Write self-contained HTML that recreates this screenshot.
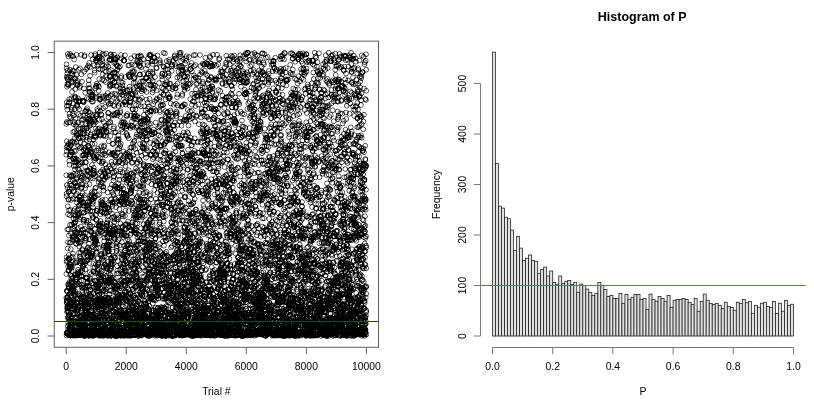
<!DOCTYPE html><html><head><meta charset="utf-8"><title>Histogram of P</title><style>
html,body{margin:0;padding:0;background:#fff;width:814px;height:400px;overflow:hidden}
svg{display:block}
text{font-family:"Liberation Sans",Arial,sans-serif;fill:#000}
</style></head><body>
<svg width="814" height="400" viewBox="0 0 814 400">
<rect width="814" height="400" fill="#fff"/>
<defs><marker id="c" markerUnits="userSpaceOnUse" markerWidth="32" markerHeight="32" refX="16" refY="16" overflow="visible" viewBox="0 0 32 32"><circle cx="16" cy="16" r="9.6" fill="none" stroke="#000" stroke-width="2.2" shape-rendering="auto"/></marker><filter id="k" x="0" y="0" width="814" height="400" filterUnits="userSpaceOnUse"><feComponentTransfer><feFuncA type="linear" slope="1.5" intercept="-0.1"/></feComponentTransfer></filter></defs>
<g filter="url(#k)"><g transform="scale(0.25)"><polyline fill="none" stroke="none" marker-start="url(#c)" marker-mid="url(#c)" marker-end="url(#c)" points="265,496 265,701 265,619 265,1191 265,1096 266,775 266,1047 266,1333 266,589 266,1029 266,785 266,273 266,1342 266,257 267,565 267,488 267,409 267,606 267,740 267,424 267,307 267,1163 268,1203 268,1211 268,1248 268,1202 268,347 268,1331 268,1213 268,1233 269,1329 269,438 269,313 269,1165 269,1193 269,294 269,918 269,1043 269,337 270,1226 270,282 270,752 270,1224 270,585 270,1336 270,1191 270,1165 271,1270 271,318 271,1304 271,1232 271,216 271,1186 271,825 271,994 272,969 272,1067 272,1245 272,1138 272,1330 272,857 272,1244 272,1318 272,1330 273,798 273,576 273,1083 273,341 273,1036 273,1291 273,490 273,309 274,917 274,767 274,226 274,1267 274,336 274,423 274,1279 274,594 275,1234 275,798 275,1272 275,1083 275,1137 275,942 275,1146 275,1341 275,1020 276,1249 276,1151 276,1197 276,410 276,1260 276,1153 276,1080 276,842 277,767 277,1055 277,1223 277,397 277,1299 277,409 277,1034 277,643 278,589 278,701 278,1316 278,1129 278,1338 278,659 278,1038 278,455 278,1064 279,1317 279,971 279,1229 279,467 279,1322 279,1175 279,756 279,624 280,490 280,216 280,1323 280,861 280,899 280,1068 280,279 280,735 281,569 281,725 281,618 281,1306 281,1282 281,1341 281,1100 281,1343 281,1307 282,1071 282,1341 282,1202 282,840 282,1274 282,310 282,1336 282,580 283,996 283,1059 283,604 283,1295 283,1312 283,1250 283,620 283,970 284,609 284,800 284,1133 284,1307 284,581 284,222 284,935 284,471 285,292 285,1292 285,1143 285,705 285,1184 285,703 285,1209 285,1031 285,1115 286,393 286,1337 286,1066 286,1288 286,781 286,1105 286,1269 286,1126 287,1271 287,331 287,440 287,742 287,1084 287,1334 287,899 287,430 288,327 288,1338 288,1329 288,368 288,1153 288,1172 288,1213 288,1071 288,755 289,1135 289,1308 289,609 289,1207 289,1168 289,1324 289,345 289,1153 290,297 290,565 290,283 290,1322 290,703 290,1153 290,959 290,1154 291,319 291,945 291,1027 291,1143 291,1234 291,723 291,453 291,1340 291,950 292,1111 292,1015 292,1257 292,569 292,1223 292,225 292,1199 292,794 293,1169 293,1320 293,637 293,1337 293,1163 293,529 293,1343 293,915 294,874 294,696 294,462 294,285 294,766 294,415 294,1151 294,1329 294,860 295,945 295,497 295,893 295,949 295,664 295,844 295,1253 295,1281 296,1335 296,1206 296,1143 296,1287 296,1209 296,764 296,313 296,392 297,604 297,627 297,1336 297,1289 297,488 297,1222 297,1181 297,635 297,238 298,648 298,553 298,906 298,572 298,1300 298,1342 298,438 298,526 299,1234 299,1341 299,733 299,1202 299,921 299,1171 299,836 299,1333 300,1318 300,891 300,1256 300,1179 300,1052 300,1217 300,386 300,1230 300,677 301,861 301,390 301,929 301,1165 301,1179 301,1099 301,945 301,730 302,781 302,356 302,313 302,1324 302,475 302,887 302,640 302,663 303,268 303,878 303,700 303,1110 303,1310 303,604 303,1049 303,952 303,863 304,1099 304,1137 304,1117 304,744 304,1289 304,635 304,975 304,499 305,716 305,957 305,745 305,505 305,1242 305,962 305,975 305,648 306,219 306,1343 306,532 306,300 306,403 306,1118 306,1335 306,568 306,1043 307,1336 307,810 307,934 307,543 307,1128 307,776 307,1140 307,1230 308,710 308,331 308,1338 308,929 308,798 308,418 308,422 308,1049 309,1340 309,1323 309,1252 309,742 309,1238 309,1211 309,842 309,1209 309,1258 310,337 310,1291 310,341 310,1292 310,1097 310,959 310,1196 310,1330 311,1334 311,1180 311,428 311,1289 311,1340 311,750 311,324 311,1296 312,393 312,539 312,676 312,1237 312,1079 312,640 312,912 312,1288 312,1088 313,861 313,865 313,1092 313,584 313,1279 313,490 313,1340 313,1098 314,551 314,1290 314,457 314,513 314,1336 314,835 314,1290 314,969 315,660 315,855 315,279 315,1338 315,554 315,1176 315,1136 315,534 315,406 316,1315 316,823 316,407 316,1261 316,1011 316,680 316,1298 316,1289 317,1228 317,931 317,1221 317,852 317,1339 317,788 317,437 317,1278 318,401 318,821 318,790 318,1126 318,987 318,876 318,1323 318,1336 318,1104 319,1026 319,1325 319,592 319,690 319,351 319,936 319,1285 319,1325 320,273 320,802 320,967 320,1339 320,1293 320,344 320,1266 320,1200 321,1182 321,973 321,649 321,1027 321,1306 321,1336 321,1268 321,656 322,463 322,531 322,869 322,571 322,1087 322,548 322,1289 322,1337 322,1045 323,815 323,1054 323,1010 323,1272 323,1190 323,1301 323,783 323,907 324,1333 324,753 324,515 324,1215 324,723 324,1034 324,712 324,1263 325,1243 325,1336 325,1304 325,589 325,798 325,1210 325,219 325,1187 325,1342 326,297 326,482 326,1139 326,1102 326,737 326,933 326,966 326,1122 327,1340 327,1277 327,1194 327,849 327,692 327,811 327,1106 327,749 328,1307 328,1150 328,1335 328,711 328,327 328,1223 328,493 328,1320 328,1336 329,622 329,1161 329,996 329,1152 329,1001 329,1080 329,1301 329,650 330,1234 330,944 330,1046 330,702 330,921 330,773 330,535 330,1315 331,735 331,808 331,404 331,1066 331,551 331,1279 331,1241 331,1324 331,1089 332,477 332,918 332,1337 332,1058 332,550 332,515 332,1280 332,1317 333,1188 333,1144 333,811 333,403 333,622 333,1065 333,822 333,1186 334,1218 334,1301 334,851 334,408 334,1337 334,599 334,879 334,932 334,1019 335,887 335,1284 335,1217 335,1189 335,523 335,1342 335,408 335,462 336,688 336,1152 336,879 336,575 336,618 336,354 336,1323 336,1216 337,1043 337,850 337,514 337,287 337,1265 337,712 337,1298 337,533 337,1344 338,226 338,1231 338,1058 338,1326 338,945 338,221 338,824 338,631 339,1315 339,592 339,1241 339,915 339,1282 339,1215 339,1317 339,1275 340,1274 340,447 340,1306 340,781 340,1336 340,963 340,1344 340,1331 340,1275 341,371 341,1148 341,1261 341,753 341,667 341,792 341,1315 341,1190 342,1339 342,1312 342,1078 342,1252 342,953 342,1327 342,933 342,1014 343,1205 343,1266 343,1110 343,648 343,600 343,1242 343,495 343,650 343,444 344,1215 344,622 344,1210 344,277 344,1206 344,1045 344,1010 344,1340 345,827 345,1166 345,1248 345,1266 345,742 345,471 345,550 345,955 346,1172 346,513 346,882 346,1250 346,440 346,1323 346,1001 346,1322 346,1180 347,560 347,1272 347,890 347,513 347,1113 347,1113 347,609 347,1144 348,1009 348,1110 348,1325 348,392 348,1193 348,846 348,1301 348,1338 349,718 349,1325 349,433 349,271 349,1043 349,1291 349,822 349,1131 349,682 350,1129 350,1133 350,477 350,1333 350,1227 350,1022 350,531 350,1218 351,1038 351,704 351,1309 351,602 351,1325 351,686 351,993 351,1336 352,583 352,840 352,1339 352,1233 352,809 352,822 352,1289 352,1144 352,989 353,488 353,262 353,1214 353,447 353,1292 353,523 353,884 353,1027 354,584 354,1337 354,819 354,1328 354,1249 354,1341 354,396 354,832 355,476 355,352 355,1337 355,1291 355,1186 355,338 355,1343 355,321 355,1323 356,1225 356,921 356,683 356,1205 356,585 356,975 356,1343 356,1165 357,707 357,252 357,628 357,1262 357,618 357,367 357,1013 357,999 358,1200 358,591 358,558 358,1052 358,1291 358,737 358,1145 358,504 358,808 359,463 359,1197 359,268 359,354 359,1221 359,956 359,1322 359,1089 360,907 360,692 360,475 360,1247 360,1120 360,899 360,491 360,303 361,495 361,845 361,1126 361,607 361,1113 361,924 361,369 361,452 362,1333 362,1210 362,714 362,781 362,483 362,1211 362,675 362,547 362,1185 363,1332 363,538 363,1159 363,598 363,1159 363,500 363,1262 363,1026 364,800 364,792 364,609 364,385 364,1029 364,1216 364,220 364,1175 365,1282 365,1244 365,1096 365,613 365,397 365,1184 365,929 365,926 365,1276 366,1295 366,1309 366,1243 366,1336 366,1023 366,1335 366,1013 366,784 367,769 367,1133 367,1339 367,1264 367,1294 367,1261 367,1343 367,1241 368,486 368,606 368,860 368,1333 368,660 368,1231 368,407 368,378 368,905 369,1017 369,1290 369,948 369,369 369,799 369,460 369,576 369,1343 370,1291 370,385 370,1260 370,776 370,389 370,379 370,845 370,796 371,237 371,1006 371,952 371,1273 371,1335 371,816 371,1310 371,1302 371,1029 372,1288 372,406 372,1307 372,829 372,868 372,1279 372,714 372,872 373,682 373,558 373,1285 373,1262 373,987 373,1314 373,1070 373,806 374,1336 374,1150 374,623 374,1195 374,1088 374,1307 374,1086 374,1174 374,692 375,1310 375,1036 375,697 375,671 375,1313 375,478 375,498 375,1342 376,944 376,787 376,1323 376,1342 376,938 376,693 376,546 376,1309 377,1258 377,793 377,261 377,683 377,486 377,1324 377,633 377,641 377,628 378,282 378,1342 378,765 378,1324 378,1303 378,981 378,480 378,533 379,575 379,291 379,915 379,974 379,1324 379,952 379,1069 379,1210 380,1290 380,787 380,1122 380,705 380,1193 380,957 380,1204 380,1202 380,967 381,1124 381,216 381,544 381,223 381,1290 381,753 381,1279 381,1226 382,544 382,1325 382,549 382,1147 382,1227 382,1093 382,1261 382,353 383,488 383,1235 383,634 383,458 383,514 383,1058 383,242 383,859 383,971 384,1213 384,994 384,1201 384,346 384,1298 384,878 384,1139 384,750 385,392 385,240 385,1327 385,1012 385,343 385,962 385,964 385,465 386,1124 386,844 386,1253 386,1288 386,1310 386,1213 386,1200 386,602 386,1007 387,335 387,386 387,880 387,1310 387,1230 387,1165 387,624 387,525 388,248 388,1282 388,1264 388,232 388,1332 388,1146 388,1275 388,901 389,436 389,1291 389,843 389,232 389,1153 389,1092 389,1285 389,1316 389,1078 390,1142 390,262 390,836 390,1034 390,458 390,1226 390,1215 390,1171 391,782 391,1328 391,1085 391,1129 391,1306 391,1337 391,977 391,444 392,1226 392,1309 392,1227 392,1151 392,1200 392,931 392,1058 392,594 392,1164 393,1057 393,341 393,1052 393,602 393,1323 393,1341 393,516 393,1289 394,728 394,991 394,1206 394,627 394,935 394,715 394,1225 394,1145 395,1309 395,363 395,275 395,1050 395,1279 395,1104 395,227 395,1240 395,905 396,901 396,479 396,1079 396,1342 396,1179 396,1335 396,347 396,529 397,1178 397,899 397,385 397,316 397,943 397,1166 397,777 397,527 398,646 398,233 398,513 398,429 398,693 398,227 398,1343 398,1221 399,919 399,1097 399,717 399,921 399,1198 399,396 399,210 399,399 399,1269 400,1125 400,906 400,1136 400,1322 400,1304 400,1330 400,926 400,631 401,543 401,1254 401,396 401,1109 401,1305 401,278 401,844 401,896 402,1342 402,1191 402,739 402,857 402,250 402,445 402,884 402,1341 402,540 403,1023 403,1265 403,1315 403,537 403,1093 403,805 403,1319 403,686 404,1280 404,1322 404,1127 404,1340 404,819 404,1115 404,457 404,1015 405,1224 405,1209 405,1237 405,1019 405,746 405,585 405,1201 405,520 405,1275 406,1085 406,812 406,1103 406,1249 406,1243 406,1278 406,459 406,1281 407,653 407,1126 407,1337 407,820 407,1226 407,730 407,831 407,927 408,894 408,1340 408,1307 408,1282 408,1178 408,406 408,1168 408,477 408,237 409,319 409,260 409,648 409,849 409,1204 409,1035 409,706 409,1200 410,216 410,1318 410,618 410,800 410,1305 410,276 410,245 410,1331 411,1028 411,607 411,1344 411,1334 411,1300 411,1250 411,298 411,812 411,1337 412,678 412,1317 412,1268 412,433 412,1136 412,819 412,385 412,1327 413,820 413,1065 413,1164 413,906 413,745 413,646 413,750 413,1253 414,1337 414,1107 414,1209 414,762 414,542 414,524 414,1225 414,1313 414,991 415,543 415,984 415,1069 415,1113 415,1041 415,488 415,1332 415,587 416,1160 416,855 416,392 416,1312 416,720 416,716 416,965 416,982 417,1326 417,582 417,1282 417,322 417,1144 417,219 417,1336 417,684 417,1336 418,516 418,615 418,1342 418,850 418,1027 418,1300 418,950 418,1201 419,689 419,1336 419,1219 419,1329 419,1257 419,1338 419,834 419,1013 420,1122 420,835 420,1226 420,1247 420,1059 420,823 420,912 420,1056 420,937 421,696 421,268 421,1166 421,604 421,1308 421,504 421,427 421,1004 422,383 422,706 422,657 422,709 422,1191 422,1323 422,622 422,798 423,544 423,287 423,328 423,1219 423,1199 423,1340 423,504 423,1109 423,1065 424,1156 424,512 424,1245 424,1255 424,1220 424,214 424,985 424,302 425,1143 425,916 425,1314 425,527 425,922 425,1335 425,1298 425,854 426,1236 426,848 426,1072 426,261 426,906 426,1209 426,1265 426,906 426,673 427,894 427,1086 427,1218 427,906 427,391 427,528 427,1132 427,994 428,1220 428,1210 428,1190 428,1255 428,928 428,946 428,979 428,1290 429,889 429,1338 429,1333 429,708 429,1340 429,1343 429,830 429,684 429,987 430,1338 430,949 430,1335 430,1048 430,1242 430,1076 430,1331 430,1008 431,1126 431,1281 431,902 431,770 431,1295 431,878 431,993 431,372 432,1277 432,407 432,1120 432,1343 432,452 432,1268 432,865 432,979 432,832 433,1196 433,266 433,988 433,493 433,1193 433,1128 433,1338 433,1190 434,686 434,819 434,390 434,469 434,451 434,1309 434,967 434,1131 435,565 435,416 435,1333 435,1005 435,1004 435,1092 435,1017 435,991 436,609 436,701 436,665 436,284 436,1309 436,921 436,1335 436,837 436,524 437,1131 437,1334 437,926 437,969 437,1337 437,242 437,1307 437,931 438,1206 438,306 438,1128 438,953 438,237 438,1277 438,1177 438,922 439,845 439,490 439,1338 439,982 439,1305 439,347 439,1080 439,1196 439,914 440,305 440,1279 440,338 440,309 440,304 440,935 440,1255 440,1162 441,383 441,1228 441,238 441,753 441,1110 441,1122 441,1343 441,1203 442,488 442,343 442,544 442,1100 442,897 442,414 442,1126 442,1057 442,1072 443,674 443,217 443,800 443,319 443,1320 443,964 443,818 443,342 444,617 444,937 444,1289 444,220 444,1247 444,1035 444,1163 444,280 445,796 445,404 445,1047 445,1032 445,1065 445,1076 445,1115 445,1342 445,1232 446,647 446,1128 446,1057 446,1116 446,1327 446,1343 446,239 446,1318 447,1315 447,1336 447,1039 447,1226 447,1287 447,1307 447,739 447,1192 448,810 448,981 448,226 448,1315 448,855 448,463 448,871 448,1329 448,1145 449,377 449,769 449,1287 449,1311 449,1110 449,936 449,615 449,1282 450,320 450,1324 450,938 450,659 450,690 450,575 450,1007 450,824 451,1201 451,1274 451,1212 451,1247 451,1056 451,293 451,1222 451,612 451,1226 452,1245 452,921 452,1312 452,809 452,341 452,1043 452,457 452,1127 453,925 453,1244 453,776 453,576 453,904 453,421 453,1167 453,1309 454,938 454,722 454,1024 454,1334 454,1329 454,1141 454,711 454,1304 454,867 455,1321 455,1261 455,617 455,951 455,780 455,1113 455,514 455,914 456,506 456,219 456,1291 456,1328 456,666 456,943 456,705 456,1145 457,291 457,1292 457,330 457,252 457,889 457,462 457,1333 457,688 457,1333 458,424 458,623 458,1201 458,877 458,610 458,1150 458,238 458,745 459,330 459,530 459,289 459,1343 459,1220 459,1129 459,1336 459,1028 460,755 460,956 460,1158 460,812 460,1031 460,374 460,1265 460,1129 460,456 461,1330 461,308 461,935 461,1146 461,917 461,1240 461,1342 461,1283 462,312 462,647 462,239 462,1335 462,1329 462,1152 462,250 462,627 463,1342 463,529 463,1338 463,238 463,1344 463,622 463,796 463,233 463,1299 464,745 464,1260 464,1170 464,380 464,829 464,912 464,292 464,684 465,1291 465,1294 465,1332 465,1234 465,806 465,1206 465,1194 465,1327 466,1247 466,346 466,992 466,1256 466,261 466,975 466,395 466,878 466,1211 467,1004 467,1177 467,1335 467,1094 467,1343 467,1344 467,342 467,557 468,1342 468,755 468,1204 468,1064 468,313 468,985 468,449 468,1266 469,750 469,1327 469,280 469,968 469,230 469,1083 469,1142 469,858 469,404 470,1189 470,562 470,1322 470,461 470,1251 470,1176 470,1328 470,752 471,935 471,264 471,940 471,611 471,451 471,596 471,925 471,1146 472,1212 472,1192 472,652 472,1045 472,877 472,1340 472,1284 472,1337 473,870 473,542 473,1183 473,1094 473,1334 473,912 473,960 473,733 473,559 474,1223 474,1333 474,1148 474,1137 474,1246 474,424 474,790 474,574 475,1296 475,1181 475,649 475,1342 475,1226 475,1287 475,1198 475,1337 476,270 476,556 476,1339 476,1206 476,1308 476,703 476,1205 476,1124 476,804 477,1013 477,1321 477,1210 477,644 477,594 477,752 477,1338 477,393 478,1153 478,1244 478,646 478,1254 478,837 478,1330 478,1271 478,720 479,1339 479,1203 479,925 479,415 479,1308 479,1243 479,1295 479,982 479,1278 480,1267 480,1331 480,1334 480,1192 480,450 480,265 480,818 480,1195 481,1325 481,1261 481,1079 481,753 481,354 481,1336 481,584 481,467 482,687 482,444 482,1316 482,1008 482,366 482,894 482,1057 482,678 482,501 483,575 483,1343 483,1311 483,1192 483,622 483,1121 483,799 483,1257 484,1145 484,1343 484,371 484,1242 484,1244 484,1333 484,311 484,220 485,519 485,233 485,808 485,329 485,1153 485,774 485,806 485,304 485,1339 486,936 486,1335 486,490 486,1178 486,1313 486,1258 486,1334 486,1322 487,1031 487,770 487,1221 487,745 487,1321 487,1250 487,1068 487,1119 488,969 488,856 488,1340 488,1018 488,942 488,1322 488,913 488,1257 488,1039 489,1096 489,353 489,1276 489,1261 489,379 489,813 489,927 489,1088 490,528 490,419 490,1320 490,1180 490,507 490,906 490,341 490,654 491,689 491,1326 491,1210 491,1277 491,331 491,1070 491,1324 491,858 491,1226 492,491 492,1338 492,866 492,1254 492,1184 492,632 492,1191 492,794 493,755 493,1059 493,1093 493,369 493,818 493,949 493,1109 493,1342 494,1286 494,777 494,1202 494,358 494,1054 494,1311 494,1127 494,606 494,243 495,1339 495,772 495,625 495,717 495,1312 495,486 495,1262 495,1334 496,1179 496,640 496,383 496,1028 496,786 496,1139 496,498 496,935 497,1268 497,1321 497,242 497,773 497,941 497,916 497,241 497,983 497,408 498,1280 498,1195 498,1023 498,1092 498,1344 498,1333 498,1259 498,1340 499,1123 499,794 499,1328 499,1072 499,1002 499,1083 499,1169 499,819 500,1241 500,221 500,492 500,409 500,1124 500,1141 500,864 500,616 500,507 501,1267 501,1087 501,713 501,898 501,1332 501,1002 501,1165 501,1191 502,1043 502,308 502,1144 502,664 502,993 502,649 502,843 502,1201 503,776 503,917 503,1300 503,1045 503,702 503,1325 503,418 503,1290 503,776 504,791 504,405 504,898 504,1314 504,798 504,1325 504,916 504,1018 505,1266 505,373 505,463 505,945 505,813 505,1275 505,1129 505,705 506,384 506,1052 506,535 506,513 506,980 506,1168 506,789 506,1085 506,730 507,1330 507,942 507,1241 507,719 507,782 507,1027 507,1265 507,1342 508,464 508,505 508,1281 508,612 508,361 508,1150 508,689 508,1253 509,1205 509,1279 509,1296 509,541 509,897 509,1102 509,456 509,1311 510,1339 510,1204 510,1216 510,1306 510,1317 510,1048 510,641 510,545 510,1022 511,983 511,957 511,363 511,1246 511,721 511,1316 511,724 511,700 512,1336 512,1343 512,886 512,625 512,1298 512,1122 512,820 512,976 513,813 513,1176 513,1158 513,1337 513,1238 513,1068 513,1123 513,997 513,262 514,1271 514,1301 514,905 514,1341 514,299 514,617 514,1333 514,502 515,844 515,553 515,812 515,1008 515,1297 515,1333 515,707 515,681 516,1268 516,1328 516,382 516,1247 516,714 516,1281 516,1186 516,1107 516,909 517,306 517,1247 517,307 517,261 517,1275 517,965 517,300 517,1325 518,1258 518,606 518,422 518,347 518,1284 518,749 518,1299 518,1207 519,1107 519,1173 519,1190 519,626 519,1225 519,308 519,1213 519,1304 519,358 520,977 520,1196 520,1011 520,1011 520,1335 520,1129 520,404 520,409 521,1341 521,940 521,737 521,992 521,631 521,626 521,591 521,1060 522,738 522,411 522,512 522,392 522,1062 522,1263 522,1199 522,1344 522,773 523,1120 523,1299 523,759 523,1335 523,1177 523,1336 523,1301 523,772 524,1329 524,233 524,1068 524,1322 524,462 524,504 524,817 524,291 525,907 525,767 525,695 525,803 525,1295 525,934 525,1055 525,760 525,921 526,1340 526,1020 526,1142 526,1289 526,1096 526,1341 526,1260 526,590 527,652 527,1009 527,1228 527,752 527,376 527,258 527,1121 527,376 528,788 528,1276 528,502 528,747 528,485 528,1333 528,1253 528,717 528,1121 529,809 529,906 529,1318 529,1329 529,1231 529,889 529,1045 529,900 530,379 530,284 530,377 530,1262 530,1324 530,1277 530,649 530,1285 531,574 531,1155 531,1158 531,1341 531,841 531,437 531,815 531,725 531,438 532,1226 532,1220 532,622 532,508 532,708 532,1091 532,1121 532,1330 533,1094 533,1165 533,981 533,699 533,833 533,1038 533,1339 533,289 534,1240 534,1077 534,1189 534,1209 534,332 534,875 534,1330 534,588 534,1122 535,365 535,1287 535,863 535,313 535,465 535,475 535,1279 535,356 536,690 536,1275 536,921 536,1271 536,1340 536,568 536,1305 536,1312 537,929 537,285 537,1291 537,455 537,1340 537,1182 537,1341 537,635 537,1070 538,1339 538,988 538,563 538,1292 538,224 538,1279 538,1318 538,857 539,261 539,992 539,1051 539,1098 539,1289 539,312 539,917 539,308 540,395 540,1146 540,475 540,1309 540,466 540,1244 540,1075 540,1295 540,1147 541,1251 541,1214 541,372 541,1036 541,1056 541,596 541,332 541,1247 542,1125 542,1191 542,438 542,895 542,844 542,1149 542,1206 542,399 543,934 543,860 543,1258 543,1256 543,382 543,869 543,915 543,462 543,874 544,420 544,753 544,720 544,983 544,1236 544,978 544,1047 544,673 545,1285 545,547 545,1325 545,1195 545,1104 545,1108 545,688 545,1095 546,1007 546,866 546,1311 546,1243 546,1057 546,1144 546,1088 546,921 547,345 547,1266 547,1007 547,732 547,511 547,790 547,1105 547,611 547,538 548,655 548,1151 548,477 548,1311 548,1116 548,934 548,1217 548,1328 549,1001 549,243 549,464 549,1179 549,1337 549,894 549,248 549,1271 550,649 550,226 550,1320 550,1309 550,949 550,504 550,1067 550,1286 550,1334 551,1060 551,681 551,1029 551,1015 551,1259 551,837 551,784 551,1228 552,1319 552,1344 552,1325 552,827 552,1325 552,983 552,1282 552,835 553,1296 553,796 553,839 553,1294 553,1038 553,1207 553,963 553,862 553,1305 554,941 554,543 554,1132 554,252 554,421 554,1343 554,1338 554,966 555,1076 555,519 555,1142 555,811 555,1322 555,1279 555,744 555,225 556,1127 556,1314 556,1049 556,398 556,1277 556,344 556,939 556,1045 556,869 557,356 557,263 557,1268 557,771 557,638 557,1308 557,826 557,1236 558,248 558,471 558,995 558,1189 558,1310 558,1135 558,1082 558,523 559,1314 559,342 559,1340 559,1281 559,345 559,857 559,832 559,298 559,1332 560,264 560,1170 560,298 560,1128 560,1257 560,576 560,1253 560,1213 561,400 561,1169 561,645 561,796 561,745 561,1340 561,492 561,540 562,1313 562,964 562,486 562,1140 562,1306 562,973 562,1145 562,1121 562,607 563,1233 563,851 563,801 563,1291 563,1272 563,222 563,248 563,1178 564,425 564,1216 564,269 564,227 564,326 564,879 564,697 564,809 565,349 565,1126 565,913 565,1343 565,1251 565,677 565,1143 565,1338 565,1266 566,623 566,1027 566,1304 566,1231 566,365 566,546 566,1326 566,817 567,1254 567,1172 567,484 567,747 567,1158 567,698 567,391 567,523 568,1332 568,1108 568,798 568,357 568,1289 568,1325 568,1153 568,1195 568,1339 569,585 569,1044 569,1185 569,512 569,1268 569,1154 569,1004 569,1170 570,1181 570,718 570,966 570,1312 570,1235 570,859 570,1333 570,496 571,1336 571,553 571,830 571,324 571,691 571,869 571,1254 571,1029 571,573 572,740 572,1260 572,723 572,1239 572,590 572,594 572,1148 572,1068 573,931 573,296 573,237 573,484 573,965 573,748 573,1304 573,773 574,1308 574,897 574,1216 574,544 574,811 574,1140 574,656 574,1331 574,1338 575,1250 575,326 575,941 575,348 575,661 575,952 575,478 575,715 576,1266 576,665 576,459 576,846 576,1274 576,798 576,1288 576,1107 577,1320 577,360 577,576 577,1332 577,1137 577,937 577,506 577,425 577,1272 578,523 578,1008 578,688 578,968 578,1227 578,913 578,997 578,1308 579,828 579,798 579,863 579,1167 579,1203 579,593 579,1314 579,1286 580,534 580,479 580,842 580,1322 580,1083 580,771 580,970 580,1318 580,1260 581,684 581,719 581,1270 581,703 581,1325 581,999 581,1036 581,616 582,1055 582,1235 582,1027 582,1153 582,1214 582,916 582,1318 582,1239 583,1001 583,1021 583,1293 583,1332 583,531 583,441 583,1250 583,1175 583,1041 584,314 584,828 584,631 584,1214 584,967 584,311 584,481 584,275 585,907 585,1227 585,1338 585,668 585,1123 585,1085 585,767 585,1227 586,984 586,1060 586,368 586,558 586,1007 586,802 586,913 586,399 587,1225 587,593 587,559 587,546 587,1127 587,1286 587,992 587,1336 587,1233 588,521 588,1342 588,1119 588,823 588,602 588,1115 588,311 588,892 589,1156 589,251 589,1160 589,1022 589,1338 589,961 589,901 589,476 590,1268 590,688 590,261 590,1113 590,411 590,452 590,698 590,941 590,476 591,517 591,899 591,664 591,1025 591,1120 591,488 591,1302 591,1342 592,1108 592,1078 592,435 592,1194 592,728 592,477 592,891 592,979 593,295 593,1205 593,1048 593,1237 593,1043 593,233 593,1089 593,833 593,1308 594,811 594,1320 594,1280 594,1280 594,662 594,294 594,1342 594,980 595,1098 595,1339 595,989 595,518 595,1344 595,426 595,322 595,1073 596,1000 596,1276 596,1096 596,1237 596,1321 596,1300 596,524 596,339 596,496 597,885 597,994 597,994 597,971 597,1223 597,925 597,834 597,219 598,1276 598,1340 598,395 598,540 598,1289 598,1269 598,1088 598,1187 599,461 599,1094 599,1342 599,999 599,1283 599,783 599,1333 599,1178 599,222 600,912 600,971 600,877 600,1324 600,447 600,662 600,1318 600,1331 601,303 601,1076 601,880 601,1273 601,777 601,286 601,1137 601,572 602,1293 602,854 602,340 602,903 602,620 602,939 602,1198 602,1342 602,1176 603,218 603,920 603,710 603,495 603,225 603,1311 603,1279 603,619 604,855 604,1310 604,1193 604,1322 604,316 604,1291 604,797 604,933 605,1185 605,343 605,1280 605,443 605,978 605,1327 605,855 605,443 605,1044 606,1027 606,619 606,1098 606,1151 606,992 606,1243 606,737 606,1063 607,1339 607,1258 607,667 607,1044 607,1189 607,920 607,1290 607,686 608,889 608,246 608,1157 608,537 608,1291 608,1016 608,1187 608,1250 608,1324 609,1259 609,945 609,538 609,1308 609,1043 609,1184 609,1122 609,972 610,256 610,288 610,1065 610,370 610,835 610,901 610,528 610,1334 611,294 611,244 611,708 611,1282 611,1214 611,866 611,324 611,717 611,637 612,1035 612,604 612,360 612,1329 612,1322 612,1241 612,1260 612,606 613,1152 613,1107 613,416 613,339 613,1007 613,1241 613,1262 613,827 614,1201 614,1299 614,446 614,1242 614,518 614,1193 614,1329 614,577 614,1082 615,229 615,980 615,698 615,1027 615,1301 615,1331 615,1333 615,1024 616,1073 616,669 616,1082 616,631 616,1053 616,436 616,352 616,937 617,1304 617,1199 617,1124 617,980 617,530 617,1131 617,760 617,231 617,1108 618,406 618,231 618,533 618,971 618,1266 618,858 618,1101 618,845 619,1343 619,1280 619,592 619,922 619,1289 619,1055 619,246 619,1135 620,998 620,1122 620,1118 620,1307 620,1124 620,342 620,308 620,561 620,1177 621,1120 621,1338 621,611 621,1021 621,1231 621,859 621,956 621,1098 622,1141 622,661 622,1250 622,741 622,724 622,1154 622,953 622,995 623,1305 623,1336 623,1313 623,795 623,835 623,874 623,490 623,622 624,920 624,1293 624,843 624,442 624,1163 624,1253 624,1200 624,1253 624,619 625,271 625,743 625,566 625,1086 625,1251 625,1297 625,1282 625,693 626,1145 626,1316 626,400 626,1247 626,1328 626,1323 626,361 626,1253 627,693 627,1185 627,273 627,1183 627,571 627,811 627,1091 627,1061 627,1151 628,1277 628,927 628,1258 628,394 628,862 628,1343 628,1255 628,1072 629,667 629,1260 629,1147 629,583 629,604 629,1181 629,1284 629,997 630,1310 630,1054 630,1151 630,1265 630,222 630,1083 630,694 630,1244 630,771 631,680 631,1334 631,1159 631,1337 631,1173 631,1232 631,1340 631,1322 632,1252 632,723 632,1322 632,1183 632,1335 632,727 632,636 632,810 633,1232 633,1194 633,1336 633,922 633,1315 633,1102 633,1161 633,861 633,1060 634,511 634,1147 634,1045 634,932 634,1088 634,1259 634,1287 634,673 635,1036 635,1323 635,1267 635,1256 635,704 635,541 635,1290 635,1324 636,1288 636,735 636,1119 636,524 636,332 636,675 636,1276 636,1317 636,988 637,253 637,938 637,1061 637,898 637,399 637,871 637,1126 637,942 638,1306 638,1239 638,820 638,682 638,1326 638,1034 638,1167 638,1122 639,1140 639,1306 639,506 639,389 639,1339 639,441 639,890 639,1029 639,241 640,448 640,1301 640,500 640,582 640,976 640,718 640,1334 640,1320 641,1094 641,622 641,249 641,1312 641,750 641,1006 641,1090 641,1300 642,641 642,1299 642,1238 642,582 642,794 642,1028 642,737 642,1062 642,547 643,742 643,1264 643,1230 643,424 643,1247 643,588 643,910 643,764 644,583 644,1328 644,420 644,792 644,1332 644,780 644,1093 644,682 645,1275 645,1155 645,1277 645,479 645,1277 645,1012 645,1302 645,1344 645,371 646,749 646,1228 646,1036 646,666 646,1340 646,1256 646,1294 646,686 647,350 647,481 647,820 647,1184 647,1122 647,1307 647,1315 647,1324 648,1276 648,818 648,1246 648,1135 648,305 648,1324 648,775 648,719 648,1083 649,822 649,1338 649,318 649,294 649,567 649,1343 649,1154 649,1330 650,1195 650,1233 650,1250 650,1304 650,857 650,296 650,1066 650,1339 651,865 651,847 651,966 651,1288 651,419 651,1186 651,1064 651,680 651,1342 652,1092 652,1059 652,827 652,679 652,1104 652,1017 652,713 652,421 653,1299 653,1299 653,355 653,935 653,379 653,817 653,1300 653,1315 654,740 654,1282 654,266 654,641 654,1261 654,1063 654,1305 654,211 654,1318 655,886 655,714 655,612 655,911 655,376 655,1063 655,869 655,1101 656,268 656,701 656,983 656,579 656,1077 656,1052 656,1195 656,786 657,932 657,705 657,1232 657,1170 657,948 657,1334 657,1061 657,576 657,779 658,613 658,1235 658,1028 658,1024 658,775 658,1170 658,1230 658,1132 659,1148 659,1316 659,1114 659,1261 659,842 659,920 659,298 659,792 660,483 660,1247 660,214 660,1013 660,1266 660,1310 660,1343 660,337 661,571 661,1330 661,340 661,523 661,1331 661,1344 661,656 661,509 661,1300 662,398 662,500 662,615 662,948 662,465 662,444 662,602 662,1196 663,865 663,1252 663,1335 663,1335 663,1089 663,1183 663,1079 663,276 664,1225 664,1136 664,961 664,1246 664,964 664,362 664,793 664,495 664,472 665,524 665,1340 665,1289 665,1007 665,1326 665,768 665,1343 665,529 666,1047 666,1132 666,1286 666,566 666,1155 666,1111 666,1191 666,1236 667,263 667,670 667,542 667,244 667,756 667,1146 667,734 667,1305 667,451 668,1322 668,1048 668,1022 668,329 668,829 668,1051 668,338 668,672 669,653 669,637 669,1304 669,1118 669,812 669,521 669,1319 669,519 670,1274 670,532 670,1145 670,1176 670,733 670,278 670,1136 670,1025 670,936 671,791 671,716 671,809 671,1325 671,448 671,1204 671,480 671,555 672,308 672,1072 672,751 672,1304 672,540 672,495 672,377 672,1329 673,944 673,1275 673,392 673,1190 673,956 673,655 673,1332 673,1210 673,781 674,293 674,1079 674,1168 674,1170 674,476 674,1158 674,1251 674,500 675,1112 675,1029 675,463 675,1046 675,636 675,303 675,1153 675,1343 676,1266 676,1105 676,1333 676,1250 676,354 676,476 676,1307 676,1275 676,1137 677,1302 677,239 677,247 677,393 677,1270 677,334 677,920 677,1293 678,813 678,1340 678,560 678,1334 678,555 678,1289 678,1295 678,814 679,1339 679,643 679,1323 679,513 679,1257 679,1168 679,386 679,613 679,765 680,721 680,1212 680,1167 680,1044 680,1146 680,763 680,1306 680,392 681,1296 681,1130 681,1169 681,625 681,518 681,1256 681,697 681,1312 682,837 682,1030 682,335 682,1261 682,1093 682,1331 682,442 682,1040 682,750 683,629 683,649 683,1073 683,483 683,414 683,747 683,911 683,623 684,449 684,683 684,990 684,1173 684,465 684,1320 684,1143 684,1160 685,938 685,889 685,784 685,528 685,1333 685,1190 685,1253 685,1155 685,738 686,1144 686,1261 686,856 686,833 686,930 686,1292 686,559 686,1311 687,789 687,1342 687,1181 687,839 687,284 687,259 687,789 687,266 688,955 688,259 688,744 688,984 688,891 688,1343 688,1140 688,1053 688,1344 689,1194 689,727 689,1275 689,1302 689,1313 689,1340 689,701 689,357 690,534 690,1287 690,1298 690,871 690,1230 690,1231 690,905 690,1315 691,1306 691,1182 691,1312 691,617 691,466 691,1325 691,1111 691,1309 691,1344 692,930 692,775 692,502 692,813 692,724 692,349 692,1269 692,1309 693,1141 693,244 693,1024 693,1203 693,835 693,1117 693,1204 693,1132 694,1023 694,962 694,1164 694,1075 694,877 694,1302 694,676 694,863 694,1174 695,1294 695,671 695,419 695,1108 695,934 695,737 695,1198 695,1340 696,1298 696,503 696,1289 696,1312 696,780 696,686 696,1136 696,1256 697,1281 697,893 697,853 697,592 697,520 697,1042 697,1271 697,1314 698,226 698,1096 698,1095 698,1282 698,1020 698,828 698,1343 698,1247 698,1311 699,1242 699,1054 699,1249 699,1087 699,221 699,632 699,1196 699,921 700,1169 700,490 700,977 700,1342 700,256 700,712 700,734 700,1341 701,1298 701,1277 701,1146 701,1258 701,770 701,1014 701,353 701,1249 701,233 702,1069 702,1202 702,568 702,606 702,693 702,964 702,829 702,1020 703,1228 703,1213 703,455 703,342 703,1332 703,1029 703,875 703,354 704,234 704,415 704,1051 704,265 704,916 704,927 704,859 704,710 704,547 705,1315 705,464 705,1179 705,1217 705,1301 705,1315 705,897 705,728 706,678 706,1211 706,749 706,691 706,579 706,719 706,1335 706,446 707,1000 707,1137 707,1101 707,725 707,550 707,705 707,1319 707,1141 707,1314 708,1232 708,452 708,389 708,970 708,1141 708,1335 708,1183 708,1328 709,924 709,812 709,1167 709,310 709,967 709,378 709,1209 709,634 710,1089 710,852 710,334 710,1087 710,1277 710,1121 710,1087 710,1189 710,500 711,422 711,1155 711,1045 711,808 711,1096 711,561 711,1034 711,984 712,1302 712,949 712,1220 712,1117 712,1134 712,998 712,1099 712,1335 713,646 713,841 713,1233 713,661 713,1315 713,938 713,1275 713,583 713,726 714,1309 714,287 714,1008 714,1150 714,631 714,753 714,1134 714,844 715,582 715,1255 715,1253 715,542 715,1203 715,1259 715,804 715,1016 716,1186 716,1332 716,585 716,978 716,267 716,1007 716,1042 716,706 716,1224 717,1057 717,1273 717,1263 717,304 717,1294 717,1009 717,881 717,1313 718,1162 718,638 718,637 718,1307 718,1336 718,486 718,1034 718,1342 719,1014 719,1261 719,972 719,896 719,211 719,1280 719,1324 719,1226 719,312 720,265 720,858 720,1216 720,217 720,1341 720,1160 720,1035 720,1070 721,642 721,783 721,675 721,553 721,729 721,557 721,1268 721,811 722,1103 722,666 722,1214 722,1081 722,1090 722,474 722,581 722,1149 722,1184 723,1155 723,1234 723,1076 723,225 723,1338 723,1321 723,211 723,710 724,824 724,1282 724,584 724,1048 724,1178 724,1297 724,245 724,1172 725,987 725,1258 725,844 725,1200 725,286 725,427 725,651 725,1276 725,1314 726,1147 726,1333 726,503 726,1090 726,264 726,1012 726,1248 726,1325 727,1013 727,1230 727,1217 727,1285 727,594 727,1096 727,296 727,984 728,868 728,424 728,1148 728,1343 728,763 728,1241 728,1270 728,583 728,880 729,1198 729,270 729,376 729,541 729,1298 729,1317 729,280 729,383 730,1214 730,615 730,823 730,1170 730,613 730,1340 730,1317 730,705 731,1341 731,1300 731,1255 731,425 731,1332 731,1030 731,924 731,1305 731,1246 732,1228 732,283 732,1117 732,1041 732,236 732,688 732,1088 732,883 733,1178 733,1052 733,729 733,1323 733,662 733,326 733,1314 733,1112 734,1203 734,340 734,1042 734,843 734,530 734,1237 734,1330 734,484 735,1097 735,973 735,1341 735,417 735,971 735,1335 735,1296 735,833 735,1296 736,347 736,1264 736,305 736,1266 736,1293 736,1130 736,1278 736,1036 737,1010 737,1095 737,1279 737,481 737,1271 737,963 737,1086 737,910 738,1260 738,945 738,911 738,628 738,928 738,1335 738,966 738,1129 738,360 739,1319 739,638 739,789 739,1131 739,744 739,789 739,907 739,1078 740,418 740,1256 740,1137 740,479 740,1339 740,351 740,1184 740,307 741,1208 741,1204 741,1257 741,1152 741,1259 741,254 741,1326 741,1264 741,931 742,958 742,1008 742,785 742,1159 742,542 742,755 742,1110 742,277 743,555 743,1097 743,1164 743,464 743,1115 743,1326 743,1193 743,1030 744,1180 744,989 744,233 744,1295 744,1334 744,1102 744,831 744,1318 744,899 745,243 745,1247 745,345 745,480 745,484 745,1083 745,1167 745,320 746,1240 746,225 746,1210 746,1270 746,966 746,926 746,655 746,635 747,1334 747,1232 747,736 747,854 747,1330 747,1269 747,1067 747,1336 747,1340 748,956 748,1247 748,883 748,623 748,1337 748,289 748,1326 748,1329 749,1145 749,1293 749,1213 749,308 749,1334 749,528 749,720 749,1087 750,354 750,919 750,1073 750,1003 750,1129 750,1301 750,1249 750,1293 750,721 751,1089 751,626 751,678 751,679 751,440 751,1011 751,1323 751,296 752,1236 752,1164 752,1289 752,912 752,599 752,929 752,943 752,559 753,1320 753,1270 753,1081 753,1268 753,1250 753,639 753,533 753,871 753,1184 754,1030 754,333 754,999 754,1035 754,1070 754,804 754,1212 754,502 755,1041 755,818 755,1163 755,1024 755,1241 755,560 755,762 755,1176 756,843 756,1320 756,1028 756,1128 756,935 756,228 756,467 756,986 756,1037 757,982 757,1049 757,1339 757,1089 757,1251 757,881 757,967 757,731 758,730 758,339 758,1105 758,704 758,1099 758,465 758,1307 758,1186 759,1335 759,860 759,1201 759,1324 759,911 759,477 759,621 759,754 759,1200 760,1310 760,446 760,1012 760,1310 760,1010 760,562 760,1061 760,768 761,974 761,1308 761,1036 761,1072 761,889 761,397 761,951 761,859 762,1049 762,940 762,334 762,637 762,626 762,1035 762,995 762,275 762,1342 763,551 763,1110 763,1328 763,1275 763,1207 763,263 763,277 763,935 764,762 764,1144 764,817 764,1246 764,671 764,1158 764,1222 764,701 765,1314 765,619 765,1173 765,582 765,819 765,987 765,1158 765,1125 765,1316 766,974 766,1271 766,252 766,1329 766,1169 766,865 766,854 766,1315 767,1203 767,854 767,1088 767,443 767,1208 767,472 767,722 767,1099 768,1344 768,285 768,642 768,581 768,1209 768,419 768,375 768,1157 768,746 769,614 769,1309 769,1294 769,851 769,633 769,1076 769,1135 769,1252 770,948 770,1105 770,1172 770,1328 770,1057 770,885 770,776 770,1136 771,1210 771,1181 771,889 771,405 771,612 771,1344 771,952 771,1149 772,727 772,738 772,1298 772,814 772,1321 772,1118 772,1176 772,1339 772,636 773,1084 773,668 773,1089 773,1325 773,1296 773,780 773,1146 773,951 774,1115 774,316 774,568 774,724 774,1317 774,809 774,854 774,1123 775,1007 775,1009 775,1308 775,1173 775,1280 775,1224 775,1304 775,460 775,221 776,1343 776,1338 776,1337 776,1128 776,657 776,302 776,265 776,406 777,1285 777,603 777,933 777,1203 777,1246 777,1272 777,710 777,1034 778,1139 778,1305 778,1136 778,1329 778,644 778,893 778,690 778,1132 778,1033 779,1008 779,1121 779,1181 779,1287 779,1093 779,553 779,390 779,796 780,1326 780,486 780,903 780,613 780,1055 780,982 780,1228 780,375 781,1248 781,220 781,1297 781,1327 781,1238 781,986 781,933 781,689 781,309 782,839 782,1024 782,1110 782,260 782,424 782,1284 782,1342 782,1272 783,1104 783,848 783,1076 783,1087 783,1197 783,675 783,1255 783,895 784,1297 784,1295 784,1307 784,1340 784,358 784,1048 784,1268 784,311 784,1229 785,1226 785,384 785,1134 785,336 785,462 785,659 785,838 785,975 786,1325 786,873 786,1124 786,670 786,466 786,1336 786,1097 786,1303 787,1271 787,1210 787,1050 787,1131 787,1234 787,1256 787,1336 787,696 787,909 788,736 788,1265 788,1142 788,1264 788,1102 788,671 788,696 788,859 789,1019 789,1163 789,992 789,335 789,1194 789,1048 789,883 789,1070 790,760 790,711 790,1214 790,1326 790,570 790,639 790,1201 790,982 790,386 791,1306 791,1110 791,382 791,1220 791,1290 791,1308 791,1233 791,1301 792,761 792,566 792,1012 792,612 792,1046 792,1031 792,730 792,1342 793,704 793,311 793,1258 793,700 793,872 793,1046 793,418 793,964 793,1049 794,1287 794,1001 794,1334 794,1123 794,951 794,1165 794,883 794,1201 795,1299 795,611 795,924 795,908 795,770 795,1305 795,1291 795,977 796,497 796,324 796,1281 796,1062 796,1328 796,1202 796,769 796,1067 796,1149 797,930 797,1326 797,1101 797,975 797,1293 797,1279 797,1329 797,1323 798,701 798,1325 798,1176 798,1268 798,1235 798,1329 798,645 798,987 799,684 799,1244 799,969 799,1242 799,1109 799,1250 799,1318 799,1103 799,1335 800,1331 800,1321 800,298 800,957 800,1342 800,912 800,220 800,1319 801,1337 801,1182 801,1326 801,1250 801,1282 801,646 801,1259 801,723 802,1309 802,264 802,1136 802,643 802,1234 802,1164 802,695 802,1250 802,653 803,527 803,569 803,1026 803,1020 803,1227 803,1173 803,1112 803,967 804,1161 804,1291 804,369 804,359 804,1328 804,1340 804,660 804,1101 805,1279 805,1157 805,1284 805,379 805,1221 805,381 805,533 805,1337 805,470 806,287 806,918 806,763 806,1179 806,400 806,1081 806,1250 806,436 807,851 807,704 807,452 807,1123 807,848 807,1343 807,1263 807,1032 808,1332 808,598 808,1121 808,1082 808,372 808,1306 808,1297 808,1257 808,448 809,702 809,1322 809,1276 809,686 809,1046 809,614 809,971 809,551 810,1071 810,1300 810,497 810,291 810,862 810,764 810,722 810,349 811,1139 811,739 811,851 811,1333 811,928 811,515 811,327 811,255 812,1270 812,1134 812,802 812,655 812,334 812,522 812,773 812,609 812,1333 813,449 813,1255 813,616 813,856 813,1054 813,1328 813,529 813,1030 814,1262 814,699 814,1203 814,604 814,901 814,824 814,376 814,614 815,1320 815,1004 815,1226 815,1243 815,692 815,1302 815,1183 815,1262 815,937 816,1286 816,1302 816,886 816,1185 816,1221 816,258 816,553 816,1231 817,1291 817,869 817,1333 817,833 817,1147 817,583 817,779 817,1198 818,548 818,351 818,466 818,410 818,1295 818,501 818,613 818,912 818,259 819,913 819,1269 819,283 819,1313 819,1186 819,1158 819,1340 819,863 820,1013 820,1287 820,438 820,870 820,1341 820,1243 820,710 820,1198 821,394 821,1081 821,620 821,1206 821,623 821,1308 821,1151 821,1276 821,1307 822,1010 822,1324 822,869 822,1239 822,231 822,1266 822,621 822,1231 823,918 823,578 823,879 823,878 823,892 823,535 823,1232 823,296 824,398 824,1234 824,750 824,1291 824,1128 824,423 824,1268 824,1339 824,932 825,1333 825,1180 825,651 825,1077 825,782 825,1339 825,1158 825,252 826,256 826,637 826,1299 826,377 826,883 826,516 826,531 826,776 827,992 827,1130 827,1341 827,545 827,412 827,1292 827,976 827,1333 827,466 828,1315 828,1014 828,364 828,1339 828,525 828,1233 828,559 828,1161 829,986 829,1330 829,469 829,666 829,512 829,532 829,1245 829,1292 830,619 830,302 830,1321 830,1324 830,982 830,1332 830,573 830,1037 830,1043 831,1323 831,1310 831,1282 831,256 831,748 831,596 831,333 831,784 832,1242 832,564 832,1341 832,1217 832,1003 832,1236 832,726 832,767 833,755 833,796 833,601 833,1259 833,842 833,942 833,1308 833,1281 833,1158 834,1181 834,1039 834,1222 834,778 834,1282 834,1232 834,653 834,1032 835,1341 835,1047 835,623 835,321 835,1222 835,1332 835,898 835,1167 836,433 836,1329 836,658 836,1290 836,1010 836,477 836,871 836,1144 836,803 837,1185 837,673 837,318 837,619 837,1256 837,737 837,399 837,1108 838,833 838,379 838,621 838,989 838,1169 838,1185 838,266 838,1264 839,1246 839,864 839,361 839,978 839,390 839,1322 839,528 839,1339 839,225 840,349 840,1101 840,758 840,267 840,252 840,1272 840,1115 840,912 841,945 841,1300 841,1160 841,356 841,1130 841,1049 841,230 841,1343 842,1338 842,575 842,1308 842,1164 842,962 842,871 842,1182 842,998 842,675 843,1324 843,391 843,924 843,636 843,309 843,977 843,1311 843,264 844,1269 844,1126 844,1339 844,1303 844,1290 844,1312 844,1339 844,1031 845,1156 845,1338 845,309 845,833 845,879 845,427 845,255 845,717 845,555 846,890 846,748 846,987 846,433 846,1328 846,1158 846,1227 846,1280 847,436 847,1161 847,1278 847,602 847,652 847,1232 847,1068 847,1208 848,1190 848,983 848,815 848,733 848,1204 848,1034 848,344 848,899 849,1281 849,368 849,263 849,347 849,824 849,1342 849,920 849,266 849,1265 850,1092 850,996 850,1044 850,1307 850,1314 850,895 850,824 850,478 851,641 851,355 851,1269 851,1292 851,1339 851,1333 851,1304 851,1263 852,1084 852,520 852,535 852,219 852,1240 852,532 852,686 852,1093 852,1267 853,1294 853,1313 853,1209 853,654 853,1122 853,968 853,967 853,1200 854,437 854,1178 854,491 854,1199 854,1111 854,930 854,1275 854,398 855,1196 855,1310 855,937 855,1004 855,1292 855,601 855,1100 855,471 855,1256 856,320 856,616 856,1245 856,1124 856,258 856,1298 856,1222 856,1258 857,1286 857,1300 857,476 857,685 857,1340 857,1204 857,444 857,1302 858,1227 858,1262 858,587 858,1344 858,1194 858,1306 858,1191 858,739 858,1148 859,388 859,1220 859,778 859,1029 859,1267 859,398 859,1327 859,1080 860,506 860,639 860,1309 860,1233 860,970 860,464 860,1309 860,532 861,395 861,898 861,318 861,943 861,313 861,1327 861,817 861,1332 861,502 862,619 862,1281 862,436 862,809 862,1292 862,713 862,727 862,1313 863,1330 863,1312 863,1329 863,1133 863,833 863,539 863,1266 863,437 864,1341 864,954 864,1050 864,931 864,1327 864,738 864,744 864,323 864,607 865,1022 865,1092 865,263 865,380 865,886 865,992 865,1323 865,1208 866,539 866,689 866,952 866,1187 866,543 866,831 866,1050 866,1218 867,689 867,1115 867,723 867,318 867,527 867,1281 867,1324 867,1168 867,1128 868,751 868,1321 868,219 868,1213 868,1014 868,754 868,650 868,1015 869,1287 869,1290 869,554 869,841 869,1114 869,546 869,547 869,1248 870,989 870,754 870,1339 870,1284 870,907 870,517 870,790 870,1301 870,772 871,1297 871,1335 871,1154 871,1337 871,1157 871,1185 871,1244 871,481 872,557 872,1243 872,1317 872,973 872,524 872,666 872,1313 872,1035 873,1157 873,864 873,433 873,1243 873,1113 873,621 873,1148 873,257 873,1234 874,675 874,484 874,1040 874,360 874,1016 874,454 874,840 874,1335 875,1250 875,1329 875,944 875,787 875,1113 875,583 875,1310 875,650 876,1319 876,576 876,1304 876,939 876,715 876,305 876,792 876,703 876,238 877,1307 877,1082 877,948 877,1093 877,1339 877,1321 877,1312 877,1247 878,734 878,867 878,233 878,1042 878,1011 878,1335 878,1129 878,1089 879,979 879,1293 879,1271 879,563 879,943 879,1301 879,1141 879,1177 879,587 880,648 880,1180 880,1108 880,1079 880,1262 880,1339 880,1088 880,1113 881,617 881,364 881,736 881,833 881,889 881,1185 881,785 881,856 882,885 882,549 882,306 882,1143 882,1157 882,420 882,1070 882,539 882,1131 883,906 883,1003 883,1217 883,1091 883,856 883,487 883,801 883,1039 884,1112 884,1204 884,1259 884,1082 884,588 884,1312 884,1189 884,288 885,841 885,1221 885,1019 885,418 885,1130 885,281 885,1073 885,1342 886,830 886,652 886,723 886,1331 886,1333 886,1142 886,894 886,1273 886,960 887,1053 887,1061 887,516 887,1065 887,1251 887,1223 887,807 887,1292 888,826 888,1208 888,1091 888,1341 888,1289 888,1315 888,792 888,400 889,1209 889,1290 889,983 889,1283 889,1057 889,332 889,1094 889,488 889,1298 890,1332 890,803 890,875 890,1294 890,287 890,286 890,336 890,383 891,647 891,304 891,1340 891,1305 891,1240 891,1275 891,1325 891,1245 892,851 892,1289 892,1177 892,736 892,644 892,1205 892,729 892,1305 892,510 893,1321 893,1281 893,739 893,1088 893,1199 893,1342 893,1089 893,1340 894,1188 894,556 894,771 894,484 894,1168 894,623 894,1108 894,485 895,1281 895,455 895,1118 895,1097 895,1188 895,979 895,557 895,883 895,1337 896,1146 896,1325 896,526 896,1109 896,1276 896,1115 896,311 896,609 897,706 897,1126 897,1026 897,1210 897,835 897,525 897,1318 897,837 898,432 898,1091 898,1261 898,1207 898,1180 898,1070 898,396 898,668 898,539 899,270 899,1224 899,739 899,595 899,1317 899,1201 899,1343 899,459 900,1320 900,900 900,713 900,523 900,1162 900,1243 900,1309 900,1284 901,1011 901,1237 901,1329 901,1338 901,1307 901,1007 901,911 901,1344 901,760 902,736 902,1166 902,1303 902,834 902,1237 902,331 902,727 902,885 903,1104 903,1095 903,1252 903,770 903,1323 903,583 903,1261 903,701 904,966 904,318 904,413 904,727 904,1194 904,390 904,341 904,250 904,403 905,1039 905,1310 905,933 905,980 905,1277 905,223 905,300 905,258 906,992 906,1266 906,416 906,580 906,833 906,700 906,1203 906,1338 907,985 907,1281 907,560 907,837 907,1014 907,721 907,1238 907,537 907,389 908,610 908,1079 908,1054 908,1337 908,790 908,1279 908,547 908,943 909,1074 909,1022 909,1052 909,930 909,1251 909,1295 909,746 909,952 910,448 910,280 910,1005 910,1229 910,1301 910,780 910,546 910,1251 910,638 911,1216 911,1269 911,1295 911,1344 911,1056 911,1281 911,1003 911,237 912,453 912,499 912,1236 912,1128 912,469 912,1080 912,900 912,1231 913,1341 913,1185 913,1157 913,1342 913,637 913,563 913,990 913,1328 913,1096 914,1131 914,1329 914,528 914,1229 914,878 914,1258 914,1304 914,1159 915,996 915,1173 915,1283 915,1015 915,1304 915,328 915,1336 915,1015 916,1337 916,516 916,385 916,680 916,559 916,316 916,857 916,747 916,1312 917,509 917,1274 917,1288 917,1198 917,1220 917,1341 917,1244 917,1323 918,760 918,1250 918,717 918,758 918,409 918,1199 918,1035 918,658 919,800 919,590 919,930 919,587 919,1158 919,326 919,768 919,258 919,1315 920,1310 920,1014 920,236 920,1064 920,1322 920,1248 920,949 920,712 921,872 921,1274 921,1308 921,1076 921,1093 921,1205 921,933 921,1222 922,827 922,466 922,1176 922,1217 922,1341 922,1192 922,1059 922,909 923,808 923,807 923,283 923,1207 923,1245 923,736 923,579 923,413 923,1146 924,224 924,1265 924,879 924,374 924,1146 924,555 924,921 924,653 925,789 925,948 925,1237 925,936 925,1131 925,1177 925,1268 925,1317 926,1143 926,303 926,1274 926,677 926,668 926,680 926,342 926,1130 926,587 927,1078 927,1265 927,345 927,429 927,532 927,973 927,807 927,708 928,1273 928,379 928,1248 928,1268 928,548 928,1236 928,1342 928,292 929,903 929,817 929,430 929,1222 929,480 929,534 929,897 929,1339 929,810 930,723 930,357 930,790 930,227 930,922 930,1119 930,870 930,883 931,865 931,1317 931,1115 931,1149 931,996 931,750 931,281 931,405 932,889 932,1323 932,1169 932,1292 932,1213 932,720 932,1220 932,1206 932,684 933,1172 933,821 933,958 933,247 933,306 933,1094 933,414 933,1099 934,1231 934,622 934,548 934,1267 934,1288 934,1260 934,1163 934,770 935,475 935,1203 935,489 935,911 935,1160 935,872 935,713 935,1222 935,1118 936,1288 936,237 936,892 936,570 936,772 936,269 936,1191 936,1240 937,1150 937,724 937,460 937,797 937,332 937,941 937,560 937,222 938,583 938,1343 938,1277 938,698 938,939 938,619 938,1307 938,1173 938,476 939,1209 939,307 939,316 939,1077 939,1315 939,1056 939,1297 939,492 940,1244 940,1255 940,500 940,1273 940,940 940,949 940,631 940,483 941,944 941,489 941,1237 941,1313 941,1294 941,786 941,1287 941,784 941,390 942,1342 942,1267 942,1271 942,1260 942,414 942,431 942,1163 942,1264 943,1285 943,1015 943,695 943,431 943,487 943,1312 943,884 943,1321 944,284 944,427 944,965 944,1333 944,678 944,292 944,527 944,1194 944,603 945,853 945,492 945,1270 945,1278 945,843 945,850 945,1194 945,1342 946,793 946,1257 946,808 946,1289 946,1073 946,934 946,789 946,1206 947,237 947,1340 947,1337 947,636 947,1207 947,963 947,411 947,318 947,554 948,1342 948,1273 948,1327 948,301 948,1328 948,1292 948,919 948,1066 949,791 949,244 949,597 949,1103 949,1337 949,938 949,1154 949,584 950,816 950,788 950,1088 950,1060 950,1318 950,453 950,538 950,403 950,1124 951,1306 951,1171 951,1153 951,1262 951,1030 951,895 951,1288 951,670 952,1047 952,1216 952,1139 952,1282 952,1314 952,914 952,615 952,1056 953,635 953,1029 953,807 953,1243 953,1311 953,673 953,989 953,272 953,1028 954,1340 954,1135 954,1295 954,1222 954,958 954,1323 954,289 954,1298 955,1146 955,410 955,1321 955,1051 955,918 955,1136 955,515 955,888 956,1234 956,1217 956,922 956,1135 956,611 956,998 956,1217 956,1214 956,375 957,1324 957,1292 957,1247 957,799 957,575 957,417 957,316 957,959 958,1003 958,259 958,742 958,1087 958,869 958,1134 958,1266 958,952 959,942 959,604 959,1291 959,315 959,1120 959,1317 959,1038 959,1217 960,1324 960,235 960,1050 960,1016 960,994 960,320 960,966 960,1226 960,245 961,1111 961,864 961,706 961,1181 961,593 961,329 961,221 961,923 962,985 962,1177 962,1296 962,528 962,1244 962,265 962,582 962,1268 963,447 963,1286 963,1260 963,1005 963,1320 963,301 963,1239 963,310 963,532 964,1122 964,1165 964,266 964,549 964,1080 964,1077 964,551 964,347 965,927 965,1329 965,957 965,594 965,1301 965,964 965,600 965,982 966,836 966,770 966,1163 966,1002 966,809 966,1244 966,734 966,1274 966,1050 967,751 967,1293 967,1305 967,775 967,1064 967,1344 967,1195 967,1124 968,1344 968,608 968,1340 968,1161 968,482 968,1271 968,1256 968,1039 969,455 969,864 969,1257 969,997 969,796 969,1066 969,506 969,1280 969,1323 970,1089 970,631 970,1081 970,522 970,1112 970,939 970,1333 970,543 971,982 971,1166 971,871 971,1151 971,923 971,1189 971,1238 971,293 972,1209 972,1225 972,1280 972,545 972,1002 972,325 972,1170 972,1312 972,285 973,1121 973,1336 973,225 973,1018 973,1336 973,1339 973,1141 973,1125 974,1084 974,507 974,1343 974,1083 974,305 974,1342 974,1337 974,940 975,1335 975,1183 975,739 975,861 975,916 975,753 975,855 975,1276 975,604 976,1332 976,329 976,722 976,1254 976,874 976,1041 976,1195 976,1309 977,1174 977,672 977,457 977,1334 977,678 977,376 977,1025 977,1000 978,1130 978,612 978,642 978,1196 978,1201 978,688 978,819 978,1342 978,1331 979,598 979,1257 979,359 979,1189 979,1336 979,1257 979,769 979,1175 980,746 980,665 980,294 980,377 980,741 980,1162 980,1134 980,1262 981,511 981,1199 981,1179 981,829 981,234 981,377 981,808 981,869 981,1251 982,993 982,332 982,1051 982,1156 982,1226 982,1138 982,1146 982,1114 983,933 983,537 983,1209 983,1282 983,213 983,780 983,1009 983,1341 984,1331 984,1235 984,1295 984,1313 984,614 984,1284 984,314 984,994 984,370 985,691 985,1103 985,655 985,218 985,571 985,994 985,246 985,370 986,390 986,1141 986,586 986,1329 986,860 986,1149 986,1029 986,1269 987,900 987,1270 987,1135 987,593 987,329 987,816 987,331 987,662 987,1070 988,289 988,774 988,615 988,971 988,1343 988,982 988,375 988,1330 989,782 989,1338 989,1178 989,436 989,1295 989,682 989,907 989,1125 990,1027 990,325 990,1284 990,1324 990,662 990,1197 990,1292 990,212 990,1295 991,880 991,300 991,1005 991,814 991,852 991,773 991,1196 991,1296 992,309 992,211 992,880 992,1260 992,551 992,704 992,688 992,1142 993,1184 993,900 993,1060 993,413 993,1311 993,1015 993,1093 993,1335 993,607 994,935 994,1080 994,536 994,917 994,1250 994,1077 994,1195 994,546 995,1319 995,1190 995,1028 995,960 995,702 995,941 995,1163 995,1057 996,1269 996,1337 996,1285 996,814 996,536 996,640 996,1319 996,898 996,819 997,240 997,1013 997,1105 997,604 997,724 997,1272 997,1024 997,1330 998,512 998,634 998,1130 998,1252 998,1332 998,834 998,1307 998,995 999,1290 999,1201 999,1179 999,365 999,1045 999,845 999,408 999,1305 1000,1341 1000,1323 1000,1188 1000,436 1000,430 1000,471 1000,700 1000,1133 1000,1342 1001,265 1001,580 1001,758 1001,463 1001,1088 1001,1234 1001,661 1001,238 1002,1257 1002,849 1002,1159 1002,750 1002,801 1002,617 1002,1267 1002,1221 1003,1205 1003,995 1003,283 1003,1294 1003,997 1003,855 1003,952 1003,1193 1003,734 1004,1024 1004,1092 1004,1331 1004,1295 1004,1331 1004,1094 1004,749 1004,1178 1005,1336 1005,735 1005,565 1005,964 1005,1328 1005,1317 1005,1194 1005,1313 1006,350 1006,1289 1006,422 1006,837 1006,1257 1006,1338 1006,929 1006,1310 1006,1251 1007,904 1007,767 1007,956 1007,260 1007,1101 1007,1330 1007,1148 1007,685 1008,1013 1008,1073 1008,1051 1008,460 1008,428 1008,1227 1008,1333 1008,216 1009,752 1009,487 1009,1307 1009,1197 1009,832 1009,1337 1009,727 1009,1333 1009,1311 1010,1339 1010,1340 1010,1197 1010,1112 1010,1283 1010,296 1010,1054 1010,530 1011,1235 1011,758 1011,654 1011,1021 1011,804 1011,1283 1011,987 1011,1248 1012,1011 1012,1318 1012,1248 1012,1296 1012,1339 1012,1311 1012,1016 1012,1286 1012,338 1013,1036 1013,1205 1013,1082 1013,530 1013,1199 1013,419 1013,1335 1013,447 1014,469 1014,1269 1014,1295 1014,549 1014,554 1014,1153 1014,445 1014,969 1015,356 1015,1001 1015,1177 1015,240 1015,334 1015,533 1015,1154 1015,280 1015,1284 1016,803 1016,1333 1016,1153 1016,1287 1016,1274 1016,921 1016,395 1016,491 1017,693 1017,1343 1017,1081 1017,1206 1017,289 1017,458 1017,494 1017,1277 1018,504 1018,1165 1018,1126 1018,1101 1018,967 1018,212 1018,1143 1018,1321 1018,438 1019,657 1019,1061 1019,1086 1019,1146 1019,1199 1019,437 1019,755 1019,474 1020,1047 1020,405 1020,1096 1020,639 1020,546 1020,985 1020,1127 1020,1257 1021,605 1021,383 1021,1269 1021,1278 1021,573 1021,1069 1021,737 1021,825 1021,582 1022,855 1022,244 1022,1284 1022,372 1022,526 1022,1169 1022,827 1022,1330 1023,866 1023,1094 1023,1215 1023,1335 1023,750 1023,727 1023,219 1023,1335 1024,1178 1024,1228 1024,771 1024,310 1024,1125 1024,741 1024,1334 1024,360 1024,901 1025,727 1025,786 1025,1118 1025,1338 1025,626 1025,1086 1025,366 1025,571 1026,530 1026,1030 1026,1213 1026,1205 1026,839 1026,1182 1026,1291 1026,515 1027,1218 1027,1056 1027,326 1027,1340 1027,1018 1027,1335 1027,1140 1027,1228 1027,941 1028,1288 1028,1260 1028,1090 1028,901 1028,544 1028,630 1028,1044 1028,1230 1029,1313 1029,1087 1029,1111 1029,343 1029,1093 1029,930 1029,392 1029,1337 1030,1247 1030,1271 1030,299 1030,1173 1030,1215 1030,895 1030,222 1030,975 1030,1179 1031,1321 1031,1251 1031,1288 1031,509 1031,691 1031,1249 1031,1236 1031,1337 1032,1275 1032,977 1032,354 1032,521 1032,1207 1032,515 1032,1024 1032,1264 1033,313 1033,1052 1033,982 1033,1263 1033,1235 1033,473 1033,1294 1033,1333 1033,1226 1034,465 1034,1330 1034,321 1034,1289 1034,481 1034,1301 1034,1191 1034,1114 1035,1211 1035,245 1035,914 1035,1320 1035,1318 1035,1236 1035,250 1035,803 1036,725 1036,660 1036,1072 1036,504 1036,863 1036,392 1036,1149 1036,690 1037,352 1037,1290 1037,1333 1037,281 1037,1235 1037,1190 1037,1272 1037,796 1037,1170 1038,1261 1038,851 1038,1268 1038,992 1038,1284 1038,1198 1038,1258 1038,1322 1039,773 1039,506 1039,1286 1039,1001 1039,1172 1039,721 1039,1236 1039,715 1040,525 1040,1001 1040,238 1040,1176 1040,799 1040,1235 1040,708 1040,517 1040,976 1041,1108 1041,783 1041,1292 1041,1232 1041,787 1041,1338 1041,1318 1041,485 1042,1186 1042,1146 1042,1177 1042,1100 1042,1315 1042,852 1042,439 1042,1214 1043,1192 1043,288 1043,498 1043,488 1043,947 1043,1335 1043,296 1043,1332 1043,1182 1044,600 1044,1244 1044,1023 1044,1249 1044,1173 1044,743 1044,1204 1044,402 1045,1202 1045,642 1045,800 1045,1017 1045,1221 1045,1319 1045,1257 1045,1002 1046,1219 1046,980 1046,1298 1046,723 1046,426 1046,1307 1046,1092 1046,1237 1046,746 1047,599 1047,267 1047,641 1047,1175 1047,1227 1047,1172 1047,1123 1047,776 1048,929 1048,1338 1048,331 1048,1195 1048,1180 1048,988 1048,214 1048,613 1049,417 1049,318 1049,1273 1049,1226 1049,906 1049,385 1049,287 1049,587 1049,874 1050,397 1050,1052 1050,1320 1050,1153 1050,1315 1050,1336 1050,819 1050,1066 1051,1217 1051,1294 1051,1314 1051,656 1051,1041 1051,797 1051,343 1051,213 1052,1306 1052,1323 1052,289 1052,449 1052,432 1052,853 1052,1280 1052,1268 1052,422 1053,765 1053,391 1053,1340 1053,788 1053,1316 1053,1179 1053,606 1053,453 1054,641 1054,734 1054,381 1054,251 1054,1089 1054,1129 1054,1196 1054,1007 1055,297 1055,1295 1055,1153 1055,1181 1055,924 1055,1186 1055,771 1055,939 1055,1111 1056,1060 1056,1224 1056,873 1056,1241 1056,461 1056,258 1056,416 1056,782 1057,911 1057,1167 1057,1187 1057,1246 1057,1271 1057,1131 1057,1274 1057,1192 1058,1106 1058,1319 1058,217 1058,1229 1058,585 1058,1150 1058,329 1058,413 1058,695 1059,656 1059,302 1059,515 1059,1238 1059,1269 1059,1101 1059,1294 1059,1316 1060,538 1060,759 1060,945 1060,570 1060,1287 1060,1286 1060,1283 1060,1127 1061,1288 1061,1340 1061,1280 1061,778 1061,1241 1061,1302 1061,1040 1061,1238 1061,971 1062,1042 1062,1062 1062,1114 1062,559 1062,1332 1062,696 1062,1343 1062,1157 1063,726 1063,1229 1063,440 1063,1243 1063,919 1063,1049 1063,1279 1063,1344 1064,551 1064,1153 1064,924 1064,1113 1064,1274 1064,1020 1064,1112 1064,1193 1064,231 1065,1322 1065,1146 1065,541 1065,1004 1065,1154 1065,406 1065,1026 1065,456 1066,1121 1066,975 1066,730 1066,737 1066,1136 1066,1272 1066,1257 1066,704 1067,390 1067,1044 1067,923 1067,1198 1067,778 1067,1278 1067,584 1067,1211 1067,837 1068,1125 1068,973 1068,551 1068,1316 1068,919 1068,601 1068,413 1068,1120 1069,818 1069,661 1069,306 1069,677 1069,1337 1069,1325 1069,1337 1069,1338 1070,560 1070,782 1070,1329 1070,1054 1070,1305 1070,1130 1070,372 1070,955 1070,557 1071,1288 1071,228 1071,1309 1071,1335 1071,1214 1071,1107 1071,829 1071,1285 1072,1266 1072,688 1072,1215 1072,436 1072,1273 1072,338 1072,770 1072,1266 1073,1332 1073,1106 1073,441 1073,1176 1073,1307 1073,759 1073,694 1073,1024 1074,1072 1074,313 1074,373 1074,588 1074,645 1074,1244 1074,737 1074,1232 1074,817 1075,1130 1075,704 1075,329 1075,295 1075,1098 1075,798 1075,284 1075,1326 1076,1319 1076,1004 1076,317 1076,362 1076,1144 1076,1209 1076,1266 1076,1326 1077,690 1077,977 1077,626 1077,411 1077,1245 1077,631 1077,379 1077,657 1077,876 1078,512 1078,1224 1078,408 1078,849 1078,904 1078,1240 1078,1256 1078,1211 1079,1092 1079,996 1079,1258 1079,898 1079,1238 1079,1307 1079,1302 1079,1155 1080,837 1080,389 1080,684 1080,1256 1080,1062 1080,1034 1080,1168 1080,1055 1080,854 1081,909 1081,804 1081,1331 1081,1298 1081,1288 1081,1063 1081,553 1081,540 1082,1148 1082,1091 1082,447 1082,710 1082,451 1082,386 1082,640 1082,713 1083,1249 1083,1265 1083,1148 1083,1170 1083,924 1083,1040 1083,785 1083,1157 1083,1135 1084,246 1084,508 1084,1007 1084,649 1084,473 1084,321 1084,1331 1084,1186 1085,980 1085,472 1085,1174 1085,497 1085,526 1085,1018 1085,1292 1085,898 1086,1318 1086,1236 1086,1226 1086,679 1086,1155 1086,559 1086,1222 1086,259 1086,1230 1087,1155 1087,936 1087,1118 1087,573 1087,671 1087,1168 1087,829 1087,420 1088,1343 1088,1328 1088,1284 1088,1221 1088,1321 1088,1278 1088,810 1088,1337 1089,995 1089,1189 1089,980 1089,928 1089,888 1089,1027 1089,979 1089,1336 1089,426 1090,934 1090,1325 1090,1169 1090,453 1090,285 1090,858 1090,969 1090,1284 1091,1107 1091,635 1091,959 1091,423 1091,393 1091,1279 1091,1282 1091,1061 1092,1013 1092,257 1092,981 1092,1161 1092,781 1092,674 1092,1326 1092,1337 1092,706 1093,243 1093,702 1093,1285 1093,1342 1093,545 1093,353 1093,751 1093,1336 1094,1311 1094,1156 1094,715 1094,245 1094,257 1094,793 1094,624 1094,539 1095,455 1095,246 1095,541 1095,404 1095,951 1095,801 1095,693 1095,1270 1095,848 1096,732 1096,846 1096,1339 1096,1089 1096,1337 1096,1301 1096,456 1096,1144 1097,1187 1097,271 1097,656 1097,1099 1097,1188 1097,1008 1097,1341 1097,579 1098,1323 1098,1113 1098,1181 1098,1255 1098,704 1098,467 1098,1324 1098,1183 1098,274 1099,461 1099,1334 1099,1232 1099,776 1099,1300 1099,1056 1099,518 1099,981 1100,1324 1100,541 1100,991 1100,1245 1100,1304 1100,515 1100,1026 1100,1038 1101,1341 1101,1333 1101,1295 1101,919 1101,1020 1101,652 1101,231 1101,687 1101,322 1102,1343 1102,399 1102,899 1102,1056 1102,1258 1102,961 1102,718 1102,1272 1103,1332 1103,402 1103,1145 1103,880 1103,498 1103,1326 1103,1336 1103,284 1104,1171 1104,363 1104,1186 1104,648 1104,1115 1104,810 1104,371 1104,577 1104,1281 1105,1157 1105,698 1105,988 1105,368 1105,1191 1105,1289 1105,424 1105,794 1106,331 1106,994 1106,984 1106,1157 1106,1061 1106,1322 1106,278 1106,940 1107,678 1107,1313 1107,637 1107,1295 1107,1251 1107,1214 1107,978 1107,716 1107,672 1108,510 1108,1222 1108,1312 1108,1195 1108,1076 1108,478 1108,1323 1108,1316 1109,1328 1109,1235 1109,524 1109,1038 1109,436 1109,885 1109,960 1109,659 1110,622 1110,615 1110,1219 1110,712 1110,1342 1110,936 1110,976 1110,685 1111,1095 1111,1062 1111,612 1111,1012 1111,1249 1111,1269 1111,1172 1111,905 1111,728 1112,1165 1112,1337 1112,1076 1112,999 1112,1209 1112,1209 1112,447 1112,852 1113,1268 1113,352 1113,1083 1113,1139 1113,1067 1113,1023 1113,1185 1113,454 1114,1028 1114,1202 1114,333 1114,960 1114,1219 1114,671 1114,1206 1114,1254 1114,1320 1115,437 1115,1066 1115,576 1115,1341 1115,809 1115,1076 1115,377 1115,1090 1116,1111 1116,713 1116,1197 1116,599 1116,1334 1116,408 1116,1305 1116,717 1117,463 1117,675 1117,498 1117,998 1117,1151 1117,870 1117,1323 1117,1250 1117,1076 1118,1338 1118,1150 1118,1152 1118,1145 1118,985 1118,512 1118,751 1118,1325 1119,765 1119,1246 1119,724 1119,818 1119,1049 1119,393 1119,1342 1119,818 1120,284 1120,289 1120,1105 1120,736 1120,1289 1120,597 1120,1256 1120,1038 1120,1001 1121,920 1121,686 1121,1205 1121,1005 1121,794 1121,323 1121,237 1121,1209 1122,1248 1122,870 1122,817 1122,1000 1122,1323 1122,1340 1122,1310 1122,930 1123,275 1123,312 1123,1133 1123,565 1123,543 1123,862 1123,405 1123,978 1123,225 1124,1099 1124,539 1124,815 1124,513 1124,1234 1124,1317 1124,1342 1124,557 1125,680 1125,756 1125,772 1125,1134 1125,993 1125,1114 1125,225 1125,639 1126,1090 1126,1134 1126,1187 1126,959 1126,1189 1126,570 1126,1140 1126,451 1126,1340 1127,810 1127,1047 1127,1152 1127,313 1127,1297 1127,353 1127,777 1127,604 1128,494 1128,1198 1128,234 1128,615 1128,1118 1128,1289 1128,285 1128,1279 1129,626 1129,401 1129,739 1129,413 1129,1172 1129,1097 1129,1313 1129,1273 1129,1262 1130,1343 1130,1292 1130,296 1130,379 1130,1209 1130,473 1130,1009 1130,1039 1131,1202 1131,1187 1131,1206 1131,1243 1131,902 1131,1171 1131,894 1131,1309 1132,417 1132,1204 1132,1005 1132,1266 1132,220 1132,400 1132,337 1132,1248 1132,667 1133,1283 1133,1322 1133,1343 1133,1027 1133,1065 1133,1311 1133,1183 1133,977 1134,1325 1134,951 1134,622 1134,1067 1134,1253 1134,1236 1134,676 1134,276 1135,997 1135,1271 1135,946 1135,838 1135,1263 1135,1275 1135,716 1135,1025 1135,888 1136,238 1136,1344 1136,1250 1136,1330 1136,800 1136,1189 1136,993 1136,968 1137,1312 1137,1206 1137,931 1137,1181 1137,500 1137,1117 1137,1336 1137,741 1138,974 1138,1117 1138,989 1138,1248 1138,938 1138,589 1138,1046 1138,1098 1138,211 1139,1324 1139,711 1139,1248 1139,1330 1139,1149 1139,920 1139,1176 1139,801 1140,935 1140,677 1140,214 1140,830 1140,598 1140,581 1140,1292 1140,1279 1141,847 1141,1297 1141,867 1141,1283 1141,1057 1141,1194 1141,434 1141,1278 1141,1344 1142,640 1142,773 1142,1339 1142,453 1142,702 1142,1317 1142,290 1142,591 1143,1092 1143,1329 1143,1341 1143,972 1143,762 1143,1043 1143,1109 1143,272 1144,1058 1144,468 1144,493 1144,1305 1144,1225 1144,317 1144,444 1144,1129 1144,322 1145,1209 1145,1327 1145,930 1145,1283 1145,1093 1145,644 1145,1319 1145,342 1146,1341 1146,903 1146,1091 1146,710 1146,594 1146,1099 1146,1253 1146,1271 1147,1237 1147,734 1147,1300 1147,1334 1147,1285 1147,1336 1147,677 1147,323 1148,319 1148,613 1148,653 1148,656 1148,902 1148,1336 1148,1026 1148,710 1148,656 1149,1327 1149,947 1149,1329 1149,658 1149,1077 1149,1066 1149,1188 1149,1333 1150,676 1150,1306 1150,1276 1150,742 1150,434 1150,1312 1150,1165 1150,1069 1151,745 1151,403 1151,826 1151,1334 1151,1310 1151,1064 1151,860 1151,1276 1151,1342 1152,599 1152,408 1152,1161 1152,1316 1152,1150 1152,1151 1152,1234 1152,1100 1153,525 1153,922 1153,1338 1153,646 1153,925 1153,688 1153,318 1153,948 1154,1342 1154,596 1154,1164 1154,473 1154,1277 1154,882 1154,1296 1154,1217 1154,881 1155,1231 1155,1037 1155,937 1155,480 1155,983 1155,1009 1155,1306 1155,857 1156,1022 1156,421 1156,1218 1156,978 1156,583 1156,1167 1156,548 1156,1249 1157,1341 1157,1178 1157,1065 1157,626 1157,427 1157,797 1157,1027 1157,1135 1157,1159 1158,1062 1158,537 1158,661 1158,1207 1158,1212 1158,1058 1158,1145 1158,1074 1159,822 1159,1065 1159,941 1159,1264 1159,791 1159,1176 1159,890 1159,578 1160,1343 1160,1332 1160,881 1160,1232 1160,1242 1160,658 1160,395 1160,1315 1160,474 1161,259 1161,1124 1161,979 1161,1222 1161,992 1161,824 1161,1259 1161,1338 1162,1194 1162,1112 1162,291 1162,1019 1162,1143 1162,1213 1162,1315 1162,630 1163,441 1163,1024 1163,1064 1163,1194 1163,1179 1163,1342 1163,1280 1163,426 1163,213 1164,372 1164,297 1164,806 1164,1235 1164,1339 1164,1220 1164,1341 1164,612 1165,602 1165,387 1165,778 1165,1211 1165,584 1165,791 1165,1328 1165,954 1166,1335 1166,899 1166,1085 1166,1300 1166,1086 1166,1312 1166,1125 1166,745 1166,625 1167,1308 1167,1314 1167,1275 1167,1029 1167,944 1167,1115 1167,804 1167,1029 1168,562 1168,1258 1168,1293 1168,809 1168,504 1168,584 1168,448 1168,429 1169,1118 1169,1308 1169,213 1169,409 1169,1030 1169,1221 1169,1180 1169,1194 1169,1297 1170,377 1170,946 1170,722 1170,1123 1170,1201 1170,500 1170,912 1170,1031 1171,235 1171,234 1171,1212 1171,521 1171,278 1171,297 1171,1129 1171,1065 1172,219 1172,1266 1172,1191 1172,1305 1172,958 1172,1317 1172,863 1172,663 1172,382 1173,1341 1173,990 1173,955 1173,1272 1173,869 1173,381 1173,418 1173,354 1174,637 1174,788 1174,464 1174,427 1174,805 1174,1285 1174,1213 1174,985 1175,1342 1175,899 1175,1283 1175,849 1175,814 1175,904 1175,961 1175,1328 1175,1181 1176,1317 1176,996 1176,714 1176,909 1176,492 1176,1340 1176,1070 1176,1151 1177,501 1177,793 1177,1143 1177,892 1177,1222 1177,1004 1177,1254 1177,1322 1178,908 1178,1303 1178,863 1178,1335 1178,1300 1178,1292 1178,857 1178,516 1178,1322 1179,1344 1179,707 1179,1200 1179,1110 1179,1084 1179,570 1179,1338 1179,759 1180,1309 1180,614 1180,787 1180,1313 1180,226 1180,315 1180,409 1180,681 1181,1231 1181,1213 1181,935 1181,1084 1181,1006 1181,247 1181,414 1181,359 1181,386 1182,1194 1182,542 1182,547 1182,1063 1182,1339 1182,1338 1182,1287 1182,375 1183,1197 1183,993 1183,763 1183,817 1183,1298 1183,941 1183,1341 1183,1342 1184,1302 1184,1307 1184,1233 1184,1240 1184,1343 1184,694 1184,579 1184,690 1185,1278 1185,840 1185,1231 1185,1341 1185,1280 1185,844 1185,1294 1185,956 1185,1335 1186,943 1186,1324 1186,1332 1186,1067 1186,986 1186,714 1186,1243 1186,696 1187,1159 1187,1228 1187,651 1187,1139 1187,776 1187,319 1187,1267 1187,621 1188,1193 1188,517 1188,538 1188,460 1188,808 1188,1341 1188,1112 1188,529 1188,699 1189,1268 1189,1237 1189,1094 1189,752 1189,1047 1189,1168 1189,988 1189,912 1190,1333 1190,230 1190,1334 1190,1254 1190,800 1190,1047 1190,672 1190,1214 1191,431 1191,806 1191,397 1191,1014 1191,1079 1191,385 1191,916 1191,440 1191,334 1192,237 1192,1198 1192,1003 1192,859 1192,357 1192,663 1192,1285 1192,548 1193,1318 1193,732 1193,897 1193,1125 1193,1312 1193,392 1193,222 1193,1293 1194,501 1194,1077 1194,1344 1194,870 1194,237 1194,305 1194,1210 1194,1229 1194,808 1195,660 1195,1024 1195,1099 1195,216 1195,403 1195,697 1195,927 1195,1281 1196,1182 1196,706 1196,612 1196,1081 1196,1340 1196,484 1196,379 1196,653 1197,1281 1197,220 1197,456 1197,1283 1197,1122 1197,633 1197,1049 1197,873 1197,526 1198,1341 1198,583 1198,689 1198,857 1198,851 1198,1316 1198,496 1198,1030 1199,1093 1199,1268 1199,957 1199,1264 1199,1055 1199,978 1199,597 1199,993 1200,325 1200,946 1200,997 1200,686 1200,1329 1200,890 1200,1294 1200,1271 1200,844 1201,214 1201,853 1201,904 1201,1188 1201,1302 1201,1336 1201,741 1201,1227 1202,1245 1202,1255 1202,941 1202,1141 1202,1185 1202,428 1202,1083 1202,1034 1203,1208 1203,1287 1203,223 1203,1240 1203,1328 1203,744 1203,1338 1203,1075 1203,990 1204,1283 1204,1189 1204,597 1204,883 1204,1232 1204,397 1204,276 1204,1150 1205,1276 1205,1238 1205,1172 1205,1101 1205,1335 1205,1153 1205,1342 1205,1282 1206,399 1206,609 1206,504 1206,852 1206,246 1206,1210 1206,578 1206,1012 1206,932 1207,1227 1207,291 1207,1075 1207,730 1207,1208 1207,940 1207,313 1207,825 1208,1195 1208,808 1208,1041 1208,1033 1208,1225 1208,1285 1208,224 1208,1026 1209,947 1209,924 1209,954 1209,1278 1209,826 1209,388 1209,1270 1209,1334 1209,1311 1210,850 1210,1300 1210,1203 1210,875 1210,1269 1210,562 1210,1330 1210,1338 1211,1070 1211,254 1211,915 1211,1217 1211,1082 1211,631 1211,952 1211,1164 1212,539 1212,1128 1212,1043 1212,213 1212,416 1212,1170 1212,1237 1212,1090 1212,1330 1213,519 1213,710 1213,913 1213,1250 1213,274 1213,1157 1213,1240 1213,714 1214,1134 1214,772 1214,1242 1214,1034 1214,319 1214,953 1214,845 1214,736 1215,1239 1215,1239 1215,760 1215,1335 1215,776 1215,278 1215,1270 1215,1095 1215,289 1216,1016 1216,732 1216,1329 1216,662 1216,931 1216,1326 1216,587 1216,1056 1217,1166 1217,1007 1217,511 1217,769 1217,1282 1217,299 1217,1337 1217,1185 1218,220 1218,956 1218,545 1218,943 1218,1171 1218,1334 1218,1077 1218,1311 1218,358 1219,1314 1219,1284 1219,1061 1219,440 1219,1248 1219,1281 1219,1156 1219,1221 1220,292 1220,657 1220,537 1220,635 1220,1295 1220,1329 1220,1119 1220,755 1221,1057 1221,1302 1221,942 1221,918 1221,1033 1221,765 1221,1118 1221,1063 1221,1110 1222,1059 1222,756 1222,1321 1222,353 1222,1335 1222,1049 1222,527 1222,375 1223,1330 1223,1127 1223,1271 1223,1093 1223,230 1223,914 1223,588 1223,1297 1224,1293 1224,1096 1224,632 1224,1344 1224,1342 1224,784 1224,1117 1224,1308 1225,627 1225,489 1225,1165 1225,1250 1225,1178 1225,784 1225,1210 1225,217 1225,1273 1226,866 1226,560 1226,531 1226,274 1226,287 1226,1300 1226,217 1226,1299 1227,1062 1227,1285 1227,452 1227,1017 1227,528 1227,1335 1227,1249 1227,547 1228,248 1228,1031 1228,1040 1228,1340 1228,1273 1228,1309 1228,1291 1228,1326 1228,991 1229,727 1229,549 1229,1250 1229,1326 1229,864 1229,421 1229,543 1229,1294 1230,562 1230,1284 1230,1100 1230,1286 1230,679 1230,1075 1230,1340 1230,1267 1231,347 1231,1200 1231,422 1231,1184 1231,1240 1231,1231 1231,1058 1231,503 1231,338 1232,1038 1232,1295 1232,1137 1232,796 1232,425 1232,1230 1232,987 1232,1332 1233,1097 1233,1176 1233,1321 1233,1340 1233,697 1233,871 1233,1106 1233,941 1234,549 1234,1013 1234,353 1234,242 1234,1298 1234,1340 1234,1190 1234,1008 1234,788 1235,677 1235,736 1235,363 1235,1216 1235,526 1235,1263 1235,511 1235,772 1236,632 1236,1056 1236,1119 1236,1300 1236,905 1236,1198 1236,1166 1236,1082 1237,250 1237,1238 1237,1322 1237,244 1237,1338 1237,916 1237,1055 1237,404 1237,1295 1238,1342 1238,1023 1238,690 1238,1017 1238,1057 1238,1297 1238,1231 1238,1018 1239,1324 1239,1315 1239,369 1239,1217 1239,1261 1239,746 1239,730 1239,415 1240,435 1240,1201 1240,717 1240,946 1240,1104 1240,1301 1240,866 1240,526 1240,383 1241,967 1241,975 1241,1081 1241,1059 1241,906 1241,1307 1241,1201 1241,1247 1242,369 1242,1245 1242,583 1242,1232 1242,485 1242,1176 1242,919 1242,810 1243,513 1243,1310 1243,963 1243,1263 1243,1333 1243,1276 1243,887 1243,400 1243,1344 1244,1323 1244,761 1244,791 1244,961 1244,712 1244,1260 1244,527 1244,1214 1245,1311 1245,591 1245,1276 1245,590 1245,1070 1245,1235 1245,800 1245,948 1246,635 1246,1114 1246,718 1246,1333 1246,629 1246,894 1246,1083 1246,963 1246,445 1247,1274 1247,770 1247,467 1247,1155 1247,1339 1247,1235 1247,1325 1247,654 1248,1041 1248,828 1248,651 1248,333 1248,1125 1248,953 1248,242 1248,1161 1249,1123 1249,666 1249,796 1249,1202 1249,1327 1249,645 1249,1102 1249,859 1249,430 1250,1178 1250,604 1250,242 1250,1206 1250,1087 1250,580 1250,431 1250,442 1251,604 1251,995 1251,657 1251,1284 1251,1300 1251,373 1251,388 1251,1017 1252,257 1252,1289 1252,787 1252,1336 1252,1330 1252,1127 1252,1342 1252,1282 1252,856 1253,1311 1253,290 1253,518 1253,428 1253,1052 1253,1179 1253,960 1253,244 1254,1153 1254,1177 1254,1302 1254,1088 1254,1320 1254,950 1254,1269 1254,451 1255,456 1255,1180 1255,316 1255,1051 1255,1343 1255,519 1255,476 1255,692 1255,698 1256,1153 1256,1225 1256,1001 1256,1038 1256,1289 1256,1170 1256,1083 1256,595 1257,1309 1257,1336 1257,1211 1257,645 1257,743 1257,1262 1257,551 1257,417 1258,1053 1258,946 1258,1165 1258,389 1258,263 1258,930 1258,1311 1258,872 1258,1180 1259,1057 1259,1337 1259,1301 1259,1235 1259,1340 1259,211 1259,356 1259,666 1260,342 1260,1320 1260,1060 1260,1136 1260,997 1260,648 1260,781 1260,927 1261,668 1261,1135 1261,1132 1261,1277 1261,1228 1261,887 1261,1284 1261,623 1262,1342 1262,1287 1262,351 1262,225 1262,1205 1262,1082 1262,869 1262,709 1262,400 1263,757 1263,1236 1263,833 1263,887 1263,1310 1263,939 1263,1223 1263,1029 1264,1134 1264,1181 1264,547 1264,774 1264,592 1264,416 1264,816 1264,1299 1265,1009 1265,330 1265,642 1265,1108 1265,231 1265,491 1265,1271 1265,1338 1265,543 1266,1250 1266,1220 1266,1327 1266,753 1266,579 1266,405 1266,835 1266,791 1267,752 1267,442 1267,948 1267,1341 1267,1147 1267,560 1267,1251 1267,1342 1268,471 1268,1341 1268,1325 1268,266 1268,1309 1268,1264 1268,514 1268,1310 1268,1323 1269,751 1269,1223 1269,566 1269,1036 1269,1337 1269,1290 1269,632 1269,1127 1270,1159 1270,496 1270,285 1270,1262 1270,1103 1270,249 1270,1170 1270,332 1271,1105 1271,1245 1271,889 1271,1035 1271,1278 1271,1221 1271,563 1271,1163 1271,1058 1272,1303 1272,1130 1272,1158 1272,1185 1272,288 1272,313 1272,1215 1272,1061 1273,926 1273,816 1273,1158 1273,568 1273,335 1273,1185 1273,1231 1273,872 1274,780 1274,933 1274,1335 1274,1251 1274,1248 1274,947 1274,850 1274,1205 1274,645 1275,296 1275,1333 1275,788 1275,1150 1275,505 1275,1254 1275,649 1275,942 1276,1128 1276,1004 1276,1063 1276,588 1276,395 1276,1311 1276,1232 1276,213 1277,907 1277,973 1277,1284 1277,1213 1277,1257 1277,415 1277,1263 1277,1197 1277,573 1278,439 1278,359 1278,297 1278,357 1278,709 1278,463 1278,407 1278,1217 1279,1107 1279,1332 1279,1229 1279,885 1279,930 1279,1200 1279,1197 1279,880 1280,448 1280,1220 1280,1324 1280,1244 1280,1280 1280,1282 1280,1258 1280,404 1280,1242 1281,282 1281,863 1281,1285 1281,1309 1281,312 1281,1097 1281,926 1281,786 1282,539 1282,1330 1282,1308 1282,1011 1282,290 1282,1228 1282,1279 1282,1069 1283,1182 1283,1223 1283,867 1283,1210 1283,1213 1283,388 1283,498 1283,998 1283,835 1284,1057 1284,506 1284,1294 1284,1338 1284,558 1284,372 1284,390 1284,1344 1285,494 1285,1243 1285,439 1285,1181 1285,1167 1285,762 1285,879 1285,1069 1286,949 1286,624 1286,772 1286,882 1286,461 1286,1300 1286,971 1286,1123 1286,1233 1287,369 1287,907 1287,901 1287,951 1287,1204 1287,1157 1287,1248 1287,1163 1288,1236 1288,1274 1288,1240 1288,497 1288,1161 1288,407 1288,1333 1288,685 1289,926 1289,1095 1289,1337 1289,561 1289,1316 1289,1325 1289,452 1289,1041 1289,1286 1290,1312 1290,901 1290,1189 1290,1336 1290,439 1290,1297 1290,815 1290,801 1291,1338 1291,695 1291,836 1291,1295 1291,997 1291,303 1291,1022 1291,497 1292,992 1292,635 1292,1077 1292,1057 1292,471 1292,913 1292,422 1292,257 1292,500 1293,297 1293,834 1293,679 1293,552 1293,897 1293,1236 1293,599 1293,1237 1294,837 1294,273 1294,1075 1294,972 1294,1218 1294,1319 1294,1310 1294,358 1295,1341 1295,642 1295,1322 1295,1189 1295,444 1295,523 1295,902 1295,684 1295,1330 1296,1282 1296,553 1296,599 1296,1309 1296,667 1296,1187 1296,549 1296,863 1297,578 1297,473 1297,1341 1297,1246 1297,812 1297,1265 1297,571 1297,1340 1298,647 1298,1076 1298,362 1298,1217 1298,520 1298,1304 1298,1294 1298,924 1299,971 1299,1285 1299,1149 1299,1307 1299,1214 1299,1291 1299,1204 1299,856 1299,1248 1300,1233 1300,1329 1300,1053 1300,1239 1300,248 1300,1288 1300,500 1300,878 1301,279 1301,425 1301,1027 1301,949 1301,1102 1301,1292 1301,1298 1301,1324 1302,1079 1302,912 1302,601 1302,1143 1302,771 1302,611 1302,1021 1302,1005 1302,263 1303,1103 1303,952 1303,1324 1303,221 1303,1313 1303,378 1303,1246 1303,393 1304,757 1304,1299 1304,589 1304,633 1304,914 1304,1251 1304,1299 1304,1340 1305,1335 1305,968 1305,652 1305,804 1305,1215 1305,522 1305,533 1305,321 1305,1343 1306,1344 1306,700 1306,1048 1306,1200 1306,933 1306,240 1306,1198 1306,1309 1307,1089 1307,444 1307,885 1307,1053 1307,1277 1307,834 1307,425 1307,1004 1308,677 1308,733 1308,1268 1308,1206 1308,1340 1308,1126 1308,1126 1308,245 1308,951 1309,1304 1309,328 1309,1313 1309,1273 1309,973 1309,315 1309,999 1309,927 1310,1322 1310,1213 1310,1336 1310,1018 1310,373 1310,1340 1310,864 1310,1307 1311,272 1311,888 1311,553 1311,509 1311,1174 1311,826 1311,623 1311,926 1311,430 1312,1198 1312,1185 1312,789 1312,753 1312,1173 1312,1275 1312,860 1312,914 1313,1157 1313,780 1313,1160 1313,390 1313,1331 1313,531 1313,667 1313,1239 1314,1321 1314,1274 1314,1012 1314,1223 1314,658 1314,570 1314,974 1314,960 1314,1196 1315,211 1315,1124 1315,421 1315,948 1315,1325 1315,699 1315,1234 1315,1344 1316,595 1316,670 1316,1052 1316,1305 1316,1062 1316,1338 1316,334 1316,1231 1317,1215 1317,663 1317,753 1317,1234 1317,1176 1317,1124 1317,1075 1317,340 1317,1049 1318,1065 1318,1160 1318,1284 1318,589 1318,468 1318,1198 1318,786 1318,1314 1319,940 1319,1049 1319,505 1319,1209 1319,1189 1319,1274 1319,1071 1319,1333 1320,758 1320,1334 1320,875 1320,1270 1320,1166 1320,573 1320,244 1320,1300 1320,1304 1321,1284 1321,1213 1321,650 1321,617 1321,512 1321,1278 1321,856 1321,976 1322,955 1322,1064 1322,1086 1322,1255 1322,1079 1322,1306 1322,1308 1322,760 1323,1216 1323,718 1323,827 1323,827 1323,1235 1323,1312 1323,936 1323,234 1323,460 1324,918 1324,1308 1324,1164 1324,861 1324,1138 1324,906 1324,1142 1324,245 1325,223 1325,1193 1325,1332 1325,1122 1325,1239 1325,535 1325,1273 1325,982 1326,1210 1326,1153 1326,1337 1326,379 1326,413 1326,1319 1326,360 1326,903 1326,1081 1327,929 1327,644 1327,1017 1327,509 1327,1333 1327,878 1327,508 1327,586 1328,1335 1328,1023 1328,1293 1328,1332 1328,328 1328,1131 1328,972 1328,1336 1329,673 1329,893 1329,1132 1329,535 1329,714 1329,1285 1329,1215 1329,1175 1329,731 1330,388 1330,1287 1330,1338 1330,1290 1330,1165 1330,1201 1330,1001 1330,1063 1331,321 1331,689 1331,829 1331,712 1331,441 1331,220 1331,843 1331,1195 1332,643 1332,551 1332,1280 1332,1112 1332,1344 1332,1281 1332,810 1332,1320 1332,1305 1333,946 1333,1136 1333,1142 1333,882 1333,871 1333,845 1333,1285 1333,1002 1334,944 1334,1306 1334,1214 1334,998 1334,1049 1334,1051 1334,1323 1334,1268 1335,329 1335,236 1335,485 1335,406 1335,989 1335,562 1335,945 1335,1084 1336,993 1336,1262 1336,1306 1336,386 1336,1331 1336,1305 1336,379 1336,1123 1336,1298 1337,1340 1337,689 1337,664 1337,934 1337,1232 1337,1275 1337,798 1337,242 1338,1273 1338,673 1338,1141 1338,874 1338,1070 1338,249 1338,1201 1338,1234 1339,1315 1339,1093 1339,946 1339,1287 1339,1241 1339,802 1339,1305 1339,394 1339,1330 1340,1305 1340,1326 1340,889 1340,1298 1340,1096 1340,1280 1340,1307 1340,1131 1341,1299 1341,1342 1341,854 1341,215 1341,603 1341,321 1341,1315 1341,279 1342,992 1342,1316 1342,859 1342,632 1342,355 1342,1241 1342,604 1342,1318 1342,1119 1343,1330 1343,675 1343,1189 1343,1199 1343,300 1343,1330 1343,378 1343,651 1344,681 1344,859 1344,980 1344,1289 1344,1317 1344,661 1344,1107 1344,1314 1345,1217 1345,1312 1345,345 1345,977 1345,266 1345,1179 1345,790 1345,1143 1345,1327 1346,988 1346,927 1346,1277 1346,1270 1346,1044 1346,750 1346,1110 1346,732 1347,1281 1347,922 1347,1132 1347,1295 1347,616 1347,1323 1347,1026 1347,261 1348,392 1348,945 1348,1339 1348,1274 1348,1336 1348,601 1348,1176 1348,1162 1348,1183 1349,519 1349,1114 1349,508 1349,405 1349,998 1349,325 1349,1257 1349,1249 1350,1123 1350,527 1350,809 1350,1279 1350,767 1350,1194 1350,1233 1350,1164 1351,1109 1351,1145 1351,1117 1351,792 1351,354 1351,740 1351,446 1351,1275 1351,924 1352,1292 1352,1144 1352,637 1352,356 1352,1304 1352,407 1352,1203 1352,477 1353,1148 1353,1143 1353,1241 1353,470 1353,318 1353,1192 1353,1301 1353,333 1354,1251 1354,567 1354,1180 1354,1008 1354,239 1354,262 1354,811 1354,463 1354,1295 1355,1343 1355,390 1355,1133 1355,354 1355,1173 1355,705 1355,325 1355,510 1356,595 1356,663 1356,1234 1356,1215 1356,990 1356,720 1356,677 1356,734 1357,945 1357,271 1357,680 1357,949 1357,239 1357,319 1357,1215 1357,1251 1357,1323 1358,370 1358,956 1358,1115 1358,1289 1358,1308 1358,216 1358,1221 1358,1186 1359,1251 1359,751 1359,1279 1359,1298 1359,590 1359,1105 1359,229 1359,1024 1360,1208 1360,638 1360,898 1360,770 1360,1272 1360,1252 1360,1059 1360,1321 1360,1316 1361,962 1361,1339 1361,454 1361,1235 1361,1066 1361,845 1361,1180 1361,747 1362,748 1362,1188 1362,973 1362,1061 1362,1273 1362,569 1362,886 1362,1109 1363,1342 1363,1343 1363,1311 1363,1279 1363,828 1363,965 1363,1251 1363,1229 1363,894 1364,327 1364,1061 1364,1066 1364,782 1364,1075 1364,225 1364,626 1364,581 1365,901 1365,1285 1365,568 1365,347 1365,1096 1365,404 1365,1314 1365,268 1366,547 1366,1305 1366,1181 1366,1254 1366,400 1366,1135 1366,1093 1366,1052 1366,1252 1367,1332 1367,649 1367,1304 1367,794 1367,1049 1367,1139 1367,1250 1367,1038 1368,905 1368,841 1368,1056 1368,742 1368,1175 1368,578 1368,626 1368,343 1369,885 1369,1264 1369,1333 1369,1221 1369,1216 1369,1306 1369,1138 1369,455 1369,769 1370,1335 1370,1046 1370,1242 1370,1103 1370,1314 1370,1178 1370,824 1370,1000 1371,346 1371,1288 1371,1342 1371,1319 1371,1274 1371,494 1371,811 1371,1139 1372,1103 1372,1093 1372,1206 1372,877 1372,1319 1372,1337 1372,1034 1372,562 1373,877 1373,858 1373,1157 1373,860 1373,1321 1373,556 1373,1072 1373,840 1373,953 1374,615 1374,1242 1374,279 1374,1251 1374,927 1374,984 1374,1223 1374,364 1375,1220 1375,946 1375,1178 1375,983 1375,536 1375,997 1375,483 1375,233 1376,283 1376,862 1376,1149 1376,1216 1376,350 1376,1338 1376,1287 1376,364 1376,1273 1377,887 1377,1143 1377,1226 1377,709 1377,1334 1377,818 1377,222 1377,916 1378,1237 1378,896 1378,267 1378,805 1378,597 1378,993 1378,1282 1378,912 1379,1120 1379,828 1379,1308 1379,822 1379,579 1379,609 1379,1340 1379,788 1379,227 1380,380 1380,935 1380,1129 1380,355 1380,615 1380,1288 1380,948 1380,559 1381,1103 1381,1064 1381,1273 1381,317 1381,676 1381,1137 1381,1085 1381,1072 1382,1296 1382,1327 1382,1112 1382,369 1382,1087 1382,519 1382,224 1382,862 1382,224 1383,836 1383,1234 1383,1243 1383,825 1383,945 1383,1328 1383,241 1383,1334 1384,294 1384,331 1384,1023 1384,450 1384,1053 1384,1131 1384,912 1384,1156 1385,1341 1385,1344 1385,1179 1385,1282 1385,476 1385,1338 1385,1271 1385,1224 1385,591 1386,645 1386,397 1386,1263 1386,1300 1386,979 1386,708 1386,1333 1386,1306 1387,423 1387,1320 1387,1039 1387,995 1387,1111 1387,1230 1387,1151 1387,1252 1388,978 1388,811 1388,1337 1388,539 1388,1322 1388,404 1388,391 1388,1078 1388,631 1389,937 1389,1215 1389,842 1389,959 1389,552 1389,893 1389,1220 1389,1011 1390,1168 1390,948 1390,1043 1390,1154 1390,628 1390,652 1390,732 1390,1283 1391,830 1391,239 1391,1334 1391,960 1391,984 1391,1194 1391,1213 1391,1137 1391,1062 1392,1023 1392,888 1392,528 1392,744 1392,1054 1392,1184 1392,322 1392,1275 1393,938 1393,1196 1393,1192 1393,813 1393,721 1393,1000 1393,1343 1393,541 1394,266 1394,1017 1394,1335 1394,1294 1394,551 1394,1097 1394,599 1394,1176 1394,601 1395,1020 1395,1178 1395,1229 1395,548 1395,701 1395,1070 1395,960 1395,1107 1396,1177 1396,1301 1396,806 1396,400 1396,1130 1396,1184 1396,1293 1396,1259 1397,392 1397,1327 1397,1117 1397,763 1397,1168 1397,1263 1397,1198 1397,1040 1397,1117 1398,949 1398,1300 1398,455 1398,221 1398,727 1398,1314 1398,1282 1398,1194 1399,960 1399,1117 1399,1152 1399,643 1399,1065 1399,1306 1399,229 1399,1321 1400,878 1400,1341 1400,1077 1400,577 1400,549 1400,1168 1400,1154 1400,865 1400,1253 1401,1316 1401,834 1401,679 1401,365 1401,414 1401,230 1401,1199 1401,1266 1402,1278 1402,745 1402,1220 1402,1059 1402,1324 1402,817 1402,1080 1402,1329 1403,509 1403,1300 1403,236 1403,1155 1403,899 1403,713 1403,1258 1403,791 1403,958 1404,711 1404,211 1404,1213 1404,1195 1404,678 1404,1099 1404,1254 1404,1324 1405,536 1405,1245 1405,276 1405,867 1405,1130 1405,1065 1405,696 1405,257 1406,288 1406,1065 1406,1161 1406,898 1406,1344 1406,913 1406,395 1406,1151 1406,1239 1407,526 1407,946 1407,1201 1407,1266 1407,371 1407,287 1407,1091 1407,330 1408,1324 1408,1242 1408,1227 1408,997 1408,772 1408,961 1408,727 1408,1320 1409,1301 1409,1288 1409,873 1409,1194 1409,878 1409,332 1409,1241 1409,876 1410,766 1410,837 1410,236 1410,1138 1410,1338 1410,1306 1410,1252 1410,616 1410,612 1411,705 1411,1203 1411,1295 1411,1120 1411,788 1411,1253 1411,1326 1411,1282 1412,891 1412,875 1412,1153 1412,425 1412,715 1412,310 1412,885 1412,619 1413,1016 1413,1313 1413,934 1413,275 1413,1306 1413,338 1413,576 1413,235 1413,785 1414,1156 1414,1342 1414,1261 1414,619 1414,1306 1414,1323 1414,611 1414,715 1415,1240 1415,871 1415,1334 1415,1280 1415,1044 1415,734 1415,1252 1415,223 1416,869 1416,1014 1416,951 1416,698 1416,439 1416,754 1416,941 1416,917 1416,1344 1417,271 1417,1221 1417,574 1417,791 1417,666 1417,746 1417,464 1417,1279 1418,1251 1418,833 1418,785 1418,1340 1418,1224 1418,376 1418,1190 1418,674 1419,652 1419,799 1419,1223 1419,1325 1419,1249 1419,888 1419,541 1419,1296 1419,944 1420,1330 1420,895 1420,380 1420,898 1420,1010 1420,956 1420,1305 1420,1251 1421,442 1421,1266 1421,1312 1421,627 1421,1008 1421,1338 1421,675 1421,1309 1422,1338 1422,1251 1422,931 1422,1195 1422,1293 1422,336 1422,1059 1422,427 1422,1289 1423,1270 1423,234 1423,640 1423,1091 1423,1287 1423,1297 1423,786 1423,577 1424,247 1424,1086 1424,1082 1424,1100 1424,1213 1424,567 1424,892 1424,836 1425,1317 1425,559 1425,855 1425,1324 1425,390 1425,1172 1425,1325 1425,676 1425,963 1426,1207 1426,1266 1426,319 1426,999 1426,1062 1426,1033 1426,901 1426,424 1427,1235 1427,1246 1427,1040 1427,933 1427,1245 1427,907 1427,857 1427,382 1428,1339 1428,1274 1428,1116 1428,842 1428,1333 1428,906 1428,994 1428,1143 1428,939 1429,1307 1429,1037 1429,1233 1429,294 1429,805 1429,412 1429,1336 1429,509 1430,663 1430,811 1430,474 1430,627 1430,1126 1430,943 1430,471 1430,1027 1431,698 1431,696 1431,1219 1431,1188 1431,367 1431,837 1431,1337 1431,358 1431,1336 1432,868 1432,1272 1432,551 1432,1337 1432,1037 1432,438 1432,584 1432,860 1433,1319 1433,1144 1433,336 1433,1213 1433,273 1433,808 1433,1327 1433,1193 1434,508 1434,674 1434,280 1434,1064 1434,674 1434,1202 1434,607 1434,898 1434,1247 1435,923 1435,677 1435,1014 1435,1134 1435,837 1435,1080 1435,543 1435,1291 1436,944 1436,949 1436,670 1436,387 1436,1335 1436,988 1436,942 1436,1208 1437,458 1437,587 1437,814 1437,914 1437,242 1437,626 1437,362 1437,1042 1437,1209 1438,503 1438,645 1438,1104 1438,919 1438,1182 1438,1005 1438,387 1438,1255 1439,987 1439,307 1439,465 1439,1243 1439,382 1439,1105 1439,1325 1439,482 1440,549 1440,1148 1440,998 1440,1236 1440,1024 1440,1317 1440,743 1440,1338 1440,1258 1441,1331 1441,1335 1441,704 1441,350 1441,1202 1441,327 1441,767 1441,831 1442,723 1442,1098 1442,729 1442,803 1442,1282 1442,1336 1442,855 1442,465 1443,1282 1443,914 1443,939 1443,1230 1443,1253 1443,654 1443,1244 1443,1155 1443,693 1444,420 1444,1330 1444,1275 1444,295 1444,749 1444,1056 1444,1326 1444,541 1445,1177 1445,305 1445,1222 1445,1321 1445,401 1445,1333 1445,593 1445,313 1446,1234 1446,373 1446,937 1446,1325 1446,1040 1446,1343 1446,1277 1446,1161 1446,990 1447,551 1447,1296 1447,496 1447,917 1447,1155 1447,467 1447,1316 1447,221 1448,1321 1448,686 1448,1201 1448,1118 1448,996 1448,1337 1448,1104 1448,750 1449,680 1449,1017 1449,766 1449,1271 1449,289 1449,731 1449,779 1449,713 1450,837 1450,1180 1450,984 1450,1121 1450,1260 1450,1294 1450,1302 1450,799 1450,877 1451,289 1451,603 1451,1066 1451,603 1451,1035 1451,793 1451,754 1451,1023 1452,658 1452,1072 1452,1194 1452,993 1452,822 1452,1268 1452,1186 1452,1321 1453,1169 1453,517 1453,1037 1453,697 1453,679 1453,1340 1453,919 1453,1152 1453,1280 1454,656 1454,1309 1454,881 1454,1314 1454,1323 1454,594 1454,1155 1454,486 1455,1126 1455,898 1455,1267 1455,949 1455,227 1455,1232 1455,1234 1455,662 1456,1074 1456,1322 1456,798 1456,609 1456,354 1456,1204 1456,1320 1456,747 1456,459 1457,933 1457,908 1457,723 1457,717 1457,1299 1457,836 1457,1159 1457,1311 1458,719 1458,1325 1458,1006 1458,257 1458,1234 1458,786 1458,1344 1458,1204 1459,657 1459,1317 1459,676 1459,974 1459,926 1459,1056 1459,1211 1459,1147 1459,249 1460,1318 1460,865 1460,925 1460,1029 1460,1287 1460,794 1460,804 1460,1337 1461,396 1461,1271 1461,1271 1461,1332 1461,1319 1461,636 1461,1269 1461,583 1462,640 1462,903 1462,952 1462,1060 1462,1318 1462,1004 1462,1297 1462,828 1462,804 1463,243 1463,839 1463,1190 1463,1283 1463,1294 1463,668 1463,1328 1463,662 1464,1149 1464,945 1464,798 1464,759 1464,217 1464,1263 1464,400 1464,983 1465,363 1465,990 1465,1145 1465,279 1465,662 1465,1241 1465,1073 1465,1175 1465,1248 1466,1338"/></g></g>
<rect x="54.24" y="41.16" width="324.26" height="306.14" fill="none" stroke="#606060" stroke-width="1"/>
<line x1="54.24" x2="378.5" y1="321.5" y2="321.5" stroke="#2222ff" stroke-width="1"/>
<line x1="47.54" x2="54.24" y1="336.00" y2="336.00" stroke="#606060" stroke-width="1"/>
<text font-size="10.4" text-anchor="middle" transform="translate(39.4,336.00) rotate(-90)">0.0</text>
<line x1="47.54" x2="54.24" y1="279.30" y2="279.30" stroke="#606060" stroke-width="1"/>
<text font-size="10.4" text-anchor="middle" transform="translate(39.4,279.30) rotate(-90)">0.2</text>
<line x1="47.54" x2="54.24" y1="222.60" y2="222.60" stroke="#606060" stroke-width="1"/>
<text font-size="10.4" text-anchor="middle" transform="translate(39.4,222.60) rotate(-90)">0.4</text>
<line x1="47.54" x2="54.24" y1="165.90" y2="165.90" stroke="#606060" stroke-width="1"/>
<text font-size="10.4" text-anchor="middle" transform="translate(39.4,165.90) rotate(-90)">0.6</text>
<line x1="47.54" x2="54.24" y1="109.20" y2="109.20" stroke="#606060" stroke-width="1"/>
<text font-size="10.4" text-anchor="middle" transform="translate(39.4,109.20) rotate(-90)">0.8</text>
<line x1="47.54" x2="54.24" y1="52.50" y2="52.50" stroke="#606060" stroke-width="1"/>
<text font-size="10.4" text-anchor="middle" transform="translate(39.4,52.50) rotate(-90)">1.0</text>
<line x1="66.20" x2="66.20" y1="347.3" y2="354.00" stroke="#606060" stroke-width="1"/>
<text font-size="10.4" text-anchor="middle" x="66.20" y="369.8">0</text>
<line x1="126.24" x2="126.24" y1="347.3" y2="354.00" stroke="#606060" stroke-width="1"/>
<text font-size="10.4" text-anchor="middle" x="126.24" y="369.8">2000</text>
<line x1="186.28" x2="186.28" y1="347.3" y2="354.00" stroke="#606060" stroke-width="1"/>
<text font-size="10.4" text-anchor="middle" x="186.28" y="369.8">4000</text>
<line x1="246.32" x2="246.32" y1="347.3" y2="354.00" stroke="#606060" stroke-width="1"/>
<text font-size="10.4" text-anchor="middle" x="246.32" y="369.8">6000</text>
<line x1="306.36" x2="306.36" y1="347.3" y2="354.00" stroke="#606060" stroke-width="1"/>
<text font-size="10.4" text-anchor="middle" x="306.36" y="369.8">8000</text>
<line x1="366.40" x2="366.40" y1="347.3" y2="354.00" stroke="#606060" stroke-width="1"/>
<text font-size="10.4" text-anchor="middle" x="366.40" y="369.8">10000</text>
<text font-size="10.4" text-anchor="middle" x="216.37" y="395">Trial #</text>
<text font-size="10.4" text-anchor="middle" transform="translate(13.9,194.23) rotate(-90)">p-value</text>
<rect x="492.50" y="52.10" width="3.010" height="283.90" fill="#e2e2e2" stroke="#1a1a1a" stroke-width="0.75"/>
<rect x="495.51" y="163.40" width="3.010" height="172.60" fill="#e2e2e2" stroke="#1a1a1a" stroke-width="0.75"/>
<rect x="498.52" y="206.20" width="3.010" height="129.80" fill="#e2e2e2" stroke="#1a1a1a" stroke-width="0.75"/>
<rect x="501.53" y="208.10" width="3.010" height="127.90" fill="#e2e2e2" stroke="#1a1a1a" stroke-width="0.75"/>
<rect x="504.54" y="217.20" width="3.010" height="118.80" fill="#e2e2e2" stroke="#1a1a1a" stroke-width="0.75"/>
<rect x="507.55" y="218.80" width="3.010" height="117.20" fill="#e2e2e2" stroke="#1a1a1a" stroke-width="0.75"/>
<rect x="510.56" y="230.10" width="3.010" height="105.90" fill="#e2e2e2" stroke="#1a1a1a" stroke-width="0.75"/>
<rect x="513.57" y="250.40" width="3.010" height="85.60" fill="#e2e2e2" stroke="#1a1a1a" stroke-width="0.75"/>
<rect x="516.58" y="236.40" width="3.010" height="99.60" fill="#e2e2e2" stroke="#1a1a1a" stroke-width="0.75"/>
<rect x="519.59" y="248.10" width="3.010" height="87.90" fill="#e2e2e2" stroke="#1a1a1a" stroke-width="0.75"/>
<rect x="522.60" y="260.40" width="3.010" height="75.60" fill="#e2e2e2" stroke="#1a1a1a" stroke-width="0.75"/>
<rect x="525.61" y="258.20" width="3.010" height="77.80" fill="#e2e2e2" stroke="#1a1a1a" stroke-width="0.75"/>
<rect x="528.62" y="255.00" width="3.010" height="81.00" fill="#e2e2e2" stroke="#1a1a1a" stroke-width="0.75"/>
<rect x="531.63" y="260.50" width="3.010" height="75.50" fill="#e2e2e2" stroke="#1a1a1a" stroke-width="0.75"/>
<rect x="534.64" y="261.30" width="3.010" height="74.70" fill="#e2e2e2" stroke="#1a1a1a" stroke-width="0.75"/>
<rect x="537.65" y="273.30" width="3.010" height="62.70" fill="#e2e2e2" stroke="#1a1a1a" stroke-width="0.75"/>
<rect x="540.66" y="269.50" width="3.010" height="66.50" fill="#e2e2e2" stroke="#1a1a1a" stroke-width="0.75"/>
<rect x="543.67" y="267.10" width="3.010" height="68.90" fill="#e2e2e2" stroke="#1a1a1a" stroke-width="0.75"/>
<rect x="546.68" y="276.00" width="3.010" height="60.00" fill="#e2e2e2" stroke="#1a1a1a" stroke-width="0.75"/>
<rect x="549.69" y="271.00" width="3.010" height="65.00" fill="#e2e2e2" stroke="#1a1a1a" stroke-width="0.75"/>
<rect x="552.70" y="282.40" width="3.010" height="53.60" fill="#e2e2e2" stroke="#1a1a1a" stroke-width="0.75"/>
<rect x="555.71" y="284.30" width="3.010" height="51.70" fill="#e2e2e2" stroke="#1a1a1a" stroke-width="0.75"/>
<rect x="558.72" y="276.00" width="3.010" height="60.00" fill="#e2e2e2" stroke="#1a1a1a" stroke-width="0.75"/>
<rect x="561.73" y="283.50" width="3.010" height="52.50" fill="#e2e2e2" stroke="#1a1a1a" stroke-width="0.75"/>
<rect x="564.74" y="281.25" width="3.010" height="54.75" fill="#e2e2e2" stroke="#1a1a1a" stroke-width="0.75"/>
<rect x="567.75" y="280.40" width="3.010" height="55.60" fill="#e2e2e2" stroke="#1a1a1a" stroke-width="0.75"/>
<rect x="570.76" y="284.40" width="3.010" height="51.60" fill="#e2e2e2" stroke="#1a1a1a" stroke-width="0.75"/>
<rect x="573.77" y="282.25" width="3.010" height="53.75" fill="#e2e2e2" stroke="#1a1a1a" stroke-width="0.75"/>
<rect x="576.78" y="292.25" width="3.010" height="43.75" fill="#e2e2e2" stroke="#1a1a1a" stroke-width="0.75"/>
<rect x="579.79" y="284.00" width="3.010" height="52.00" fill="#e2e2e2" stroke="#1a1a1a" stroke-width="0.75"/>
<rect x="582.80" y="285.40" width="3.010" height="50.60" fill="#e2e2e2" stroke="#1a1a1a" stroke-width="0.75"/>
<rect x="585.81" y="289.10" width="3.010" height="46.90" fill="#e2e2e2" stroke="#1a1a1a" stroke-width="0.75"/>
<rect x="588.82" y="292.50" width="3.010" height="43.50" fill="#e2e2e2" stroke="#1a1a1a" stroke-width="0.75"/>
<rect x="591.83" y="295.40" width="3.010" height="40.60" fill="#e2e2e2" stroke="#1a1a1a" stroke-width="0.75"/>
<rect x="594.84" y="293.25" width="3.010" height="42.75" fill="#e2e2e2" stroke="#1a1a1a" stroke-width="0.75"/>
<rect x="597.85" y="282.50" width="3.010" height="53.50" fill="#e2e2e2" stroke="#1a1a1a" stroke-width="0.75"/>
<rect x="600.86" y="285.25" width="3.010" height="50.75" fill="#e2e2e2" stroke="#1a1a1a" stroke-width="0.75"/>
<rect x="603.87" y="289.50" width="3.010" height="46.50" fill="#e2e2e2" stroke="#1a1a1a" stroke-width="0.75"/>
<rect x="606.88" y="296.40" width="3.010" height="39.60" fill="#e2e2e2" stroke="#1a1a1a" stroke-width="0.75"/>
<rect x="609.89" y="295.40" width="3.010" height="40.60" fill="#e2e2e2" stroke="#1a1a1a" stroke-width="0.75"/>
<rect x="612.90" y="298.60" width="3.010" height="37.40" fill="#e2e2e2" stroke="#1a1a1a" stroke-width="0.75"/>
<rect x="615.91" y="298.60" width="3.010" height="37.40" fill="#e2e2e2" stroke="#1a1a1a" stroke-width="0.75"/>
<rect x="618.92" y="293.40" width="3.010" height="42.60" fill="#e2e2e2" stroke="#1a1a1a" stroke-width="0.75"/>
<rect x="621.93" y="303.50" width="3.010" height="32.50" fill="#e2e2e2" stroke="#1a1a1a" stroke-width="0.75"/>
<rect x="624.94" y="294.40" width="3.010" height="41.60" fill="#e2e2e2" stroke="#1a1a1a" stroke-width="0.75"/>
<rect x="627.95" y="299.50" width="3.010" height="36.50" fill="#e2e2e2" stroke="#1a1a1a" stroke-width="0.75"/>
<rect x="630.96" y="297.25" width="3.010" height="38.75" fill="#e2e2e2" stroke="#1a1a1a" stroke-width="0.75"/>
<rect x="633.97" y="294.40" width="3.010" height="41.60" fill="#e2e2e2" stroke="#1a1a1a" stroke-width="0.75"/>
<rect x="636.98" y="294.40" width="3.010" height="41.60" fill="#e2e2e2" stroke="#1a1a1a" stroke-width="0.75"/>
<rect x="639.99" y="299.50" width="3.010" height="36.50" fill="#e2e2e2" stroke="#1a1a1a" stroke-width="0.75"/>
<rect x="643.00" y="298.60" width="3.010" height="37.40" fill="#e2e2e2" stroke="#1a1a1a" stroke-width="0.75"/>
<rect x="646.01" y="309.50" width="3.010" height="26.50" fill="#e2e2e2" stroke="#1a1a1a" stroke-width="0.75"/>
<rect x="649.02" y="294.10" width="3.010" height="41.90" fill="#e2e2e2" stroke="#1a1a1a" stroke-width="0.75"/>
<rect x="652.03" y="299.40" width="3.010" height="36.60" fill="#e2e2e2" stroke="#1a1a1a" stroke-width="0.75"/>
<rect x="655.04" y="301.25" width="3.010" height="34.75" fill="#e2e2e2" stroke="#1a1a1a" stroke-width="0.75"/>
<rect x="658.05" y="296.50" width="3.010" height="39.50" fill="#e2e2e2" stroke="#1a1a1a" stroke-width="0.75"/>
<rect x="661.06" y="298.40" width="3.010" height="37.60" fill="#e2e2e2" stroke="#1a1a1a" stroke-width="0.75"/>
<rect x="664.07" y="301.25" width="3.010" height="34.75" fill="#e2e2e2" stroke="#1a1a1a" stroke-width="0.75"/>
<rect x="667.08" y="295.40" width="3.010" height="40.60" fill="#e2e2e2" stroke="#1a1a1a" stroke-width="0.75"/>
<rect x="670.09" y="307.25" width="3.010" height="28.75" fill="#e2e2e2" stroke="#1a1a1a" stroke-width="0.75"/>
<rect x="673.10" y="300.25" width="3.010" height="35.75" fill="#e2e2e2" stroke="#1a1a1a" stroke-width="0.75"/>
<rect x="676.11" y="299.40" width="3.010" height="36.60" fill="#e2e2e2" stroke="#1a1a1a" stroke-width="0.75"/>
<rect x="679.12" y="299.60" width="3.010" height="36.40" fill="#e2e2e2" stroke="#1a1a1a" stroke-width="0.75"/>
<rect x="682.13" y="298.50" width="3.010" height="37.50" fill="#e2e2e2" stroke="#1a1a1a" stroke-width="0.75"/>
<rect x="685.14" y="299.50" width="3.010" height="36.50" fill="#e2e2e2" stroke="#1a1a1a" stroke-width="0.75"/>
<rect x="688.15" y="302.50" width="3.010" height="33.50" fill="#e2e2e2" stroke="#1a1a1a" stroke-width="0.75"/>
<rect x="691.16" y="304.40" width="3.010" height="31.60" fill="#e2e2e2" stroke="#1a1a1a" stroke-width="0.75"/>
<rect x="694.17" y="298.50" width="3.010" height="37.50" fill="#e2e2e2" stroke="#1a1a1a" stroke-width="0.75"/>
<rect x="697.18" y="311.25" width="3.010" height="24.75" fill="#e2e2e2" stroke="#1a1a1a" stroke-width="0.75"/>
<rect x="700.19" y="301.50" width="3.010" height="34.50" fill="#e2e2e2" stroke="#1a1a1a" stroke-width="0.75"/>
<rect x="703.20" y="294.10" width="3.010" height="41.90" fill="#e2e2e2" stroke="#1a1a1a" stroke-width="0.75"/>
<rect x="706.21" y="300.25" width="3.010" height="35.75" fill="#e2e2e2" stroke="#1a1a1a" stroke-width="0.75"/>
<rect x="709.22" y="303.40" width="3.010" height="32.60" fill="#e2e2e2" stroke="#1a1a1a" stroke-width="0.75"/>
<rect x="712.23" y="304.40" width="3.010" height="31.60" fill="#e2e2e2" stroke="#1a1a1a" stroke-width="0.75"/>
<rect x="715.24" y="303.40" width="3.010" height="32.60" fill="#e2e2e2" stroke="#1a1a1a" stroke-width="0.75"/>
<rect x="718.25" y="305.40" width="3.010" height="30.60" fill="#e2e2e2" stroke="#1a1a1a" stroke-width="0.75"/>
<rect x="721.26" y="308.40" width="3.010" height="27.60" fill="#e2e2e2" stroke="#1a1a1a" stroke-width="0.75"/>
<rect x="724.27" y="302.25" width="3.010" height="33.75" fill="#e2e2e2" stroke="#1a1a1a" stroke-width="0.75"/>
<rect x="727.28" y="306.40" width="3.010" height="29.60" fill="#e2e2e2" stroke="#1a1a1a" stroke-width="0.75"/>
<rect x="730.29" y="307.50" width="3.010" height="28.50" fill="#e2e2e2" stroke="#1a1a1a" stroke-width="0.75"/>
<rect x="733.30" y="310.25" width="3.010" height="25.75" fill="#e2e2e2" stroke="#1a1a1a" stroke-width="0.75"/>
<rect x="736.31" y="302.25" width="3.010" height="33.75" fill="#e2e2e2" stroke="#1a1a1a" stroke-width="0.75"/>
<rect x="739.32" y="303.40" width="3.010" height="32.60" fill="#e2e2e2" stroke="#1a1a1a" stroke-width="0.75"/>
<rect x="742.33" y="299.40" width="3.010" height="36.60" fill="#e2e2e2" stroke="#1a1a1a" stroke-width="0.75"/>
<rect x="745.34" y="302.75" width="3.010" height="33.25" fill="#e2e2e2" stroke="#1a1a1a" stroke-width="0.75"/>
<rect x="748.35" y="301.50" width="3.010" height="34.50" fill="#e2e2e2" stroke="#1a1a1a" stroke-width="0.75"/>
<rect x="751.36" y="313.25" width="3.010" height="22.75" fill="#e2e2e2" stroke="#1a1a1a" stroke-width="0.75"/>
<rect x="754.37" y="305.60" width="3.010" height="30.40" fill="#e2e2e2" stroke="#1a1a1a" stroke-width="0.75"/>
<rect x="757.38" y="307.25" width="3.010" height="28.75" fill="#e2e2e2" stroke="#1a1a1a" stroke-width="0.75"/>
<rect x="760.39" y="303.25" width="3.010" height="32.75" fill="#e2e2e2" stroke="#1a1a1a" stroke-width="0.75"/>
<rect x="763.40" y="302.25" width="3.010" height="33.75" fill="#e2e2e2" stroke="#1a1a1a" stroke-width="0.75"/>
<rect x="766.41" y="306.50" width="3.010" height="29.50" fill="#e2e2e2" stroke="#1a1a1a" stroke-width="0.75"/>
<rect x="769.42" y="307.50" width="3.010" height="28.50" fill="#e2e2e2" stroke="#1a1a1a" stroke-width="0.75"/>
<rect x="772.43" y="301.50" width="3.010" height="34.50" fill="#e2e2e2" stroke="#1a1a1a" stroke-width="0.75"/>
<rect x="775.44" y="313.40" width="3.010" height="22.60" fill="#e2e2e2" stroke="#1a1a1a" stroke-width="0.75"/>
<rect x="778.45" y="303.25" width="3.010" height="32.75" fill="#e2e2e2" stroke="#1a1a1a" stroke-width="0.75"/>
<rect x="781.46" y="311.25" width="3.010" height="24.75" fill="#e2e2e2" stroke="#1a1a1a" stroke-width="0.75"/>
<rect x="784.47" y="300.40" width="3.010" height="35.60" fill="#e2e2e2" stroke="#1a1a1a" stroke-width="0.75"/>
<rect x="787.48" y="305.40" width="3.010" height="30.60" fill="#e2e2e2" stroke="#1a1a1a" stroke-width="0.75"/>
<rect x="790.49" y="304.25" width="3.010" height="31.75" fill="#e2e2e2" stroke="#1a1a1a" stroke-width="0.75"/>
<line x1="480.5" x2="805.5" y1="285.50" y2="285.50" stroke="#5c5cff" stroke-width="1"/>
<line x1="480.5" x2="480.5" y1="336.0" y2="83.50" stroke="#787878" stroke-width="1"/>
<line x1="473.80" x2="480.5" y1="336.00" y2="336.00" stroke="#787878" stroke-width="1"/>
<text font-size="10.4" text-anchor="middle" transform="translate(465.8,336.00) rotate(-90)">0</text>
<line x1="473.80" x2="480.5" y1="285.50" y2="285.50" stroke="#787878" stroke-width="1"/>
<text font-size="10.4" text-anchor="middle" transform="translate(465.8,285.50) rotate(-90)">100</text>
<line x1="473.80" x2="480.5" y1="235.00" y2="235.00" stroke="#787878" stroke-width="1"/>
<text font-size="10.4" text-anchor="middle" transform="translate(465.8,235.00) rotate(-90)">200</text>
<line x1="473.80" x2="480.5" y1="184.50" y2="184.50" stroke="#787878" stroke-width="1"/>
<text font-size="10.4" text-anchor="middle" transform="translate(465.8,184.50) rotate(-90)">300</text>
<line x1="473.80" x2="480.5" y1="134.00" y2="134.00" stroke="#787878" stroke-width="1"/>
<text font-size="10.4" text-anchor="middle" transform="translate(465.8,134.00) rotate(-90)">400</text>
<line x1="473.80" x2="480.5" y1="83.50" y2="83.50" stroke="#787878" stroke-width="1"/>
<text font-size="10.4" text-anchor="middle" transform="translate(465.8,83.50) rotate(-90)">500</text>
<line x1="492.5" x2="793.5" y1="347.5" y2="347.5" stroke="#787878" stroke-width="1"/>
<line x1="492.50" x2="492.50" y1="347.5" y2="354.20" stroke="#787878" stroke-width="1"/>
<text font-size="10.4" text-anchor="middle" x="492.50" y="369.8">0.0</text>
<line x1="552.70" x2="552.70" y1="347.5" y2="354.20" stroke="#787878" stroke-width="1"/>
<text font-size="10.4" text-anchor="middle" x="552.70" y="369.8">0.2</text>
<line x1="612.90" x2="612.90" y1="347.5" y2="354.20" stroke="#787878" stroke-width="1"/>
<text font-size="10.4" text-anchor="middle" x="612.90" y="369.8">0.4</text>
<line x1="673.10" x2="673.10" y1="347.5" y2="354.20" stroke="#787878" stroke-width="1"/>
<text font-size="10.4" text-anchor="middle" x="673.10" y="369.8">0.6</text>
<line x1="733.30" x2="733.30" y1="347.5" y2="354.20" stroke="#787878" stroke-width="1"/>
<text font-size="10.4" text-anchor="middle" x="733.30" y="369.8">0.8</text>
<line x1="793.50" x2="793.50" y1="347.5" y2="354.20" stroke="#787878" stroke-width="1"/>
<text font-size="10.4" text-anchor="middle" x="793.50" y="369.8">1.0</text>
<text font-size="10.4" text-anchor="middle" x="643.00" y="395">P</text>
<text font-size="10.4" text-anchor="middle" transform="translate(440.4,194.33) rotate(-90)">Frequency</text>
<text font-size="12.48" font-weight="bold" text-anchor="middle" x="642.2" y="20.6">Histogram of P</text>
</svg></body></html>
